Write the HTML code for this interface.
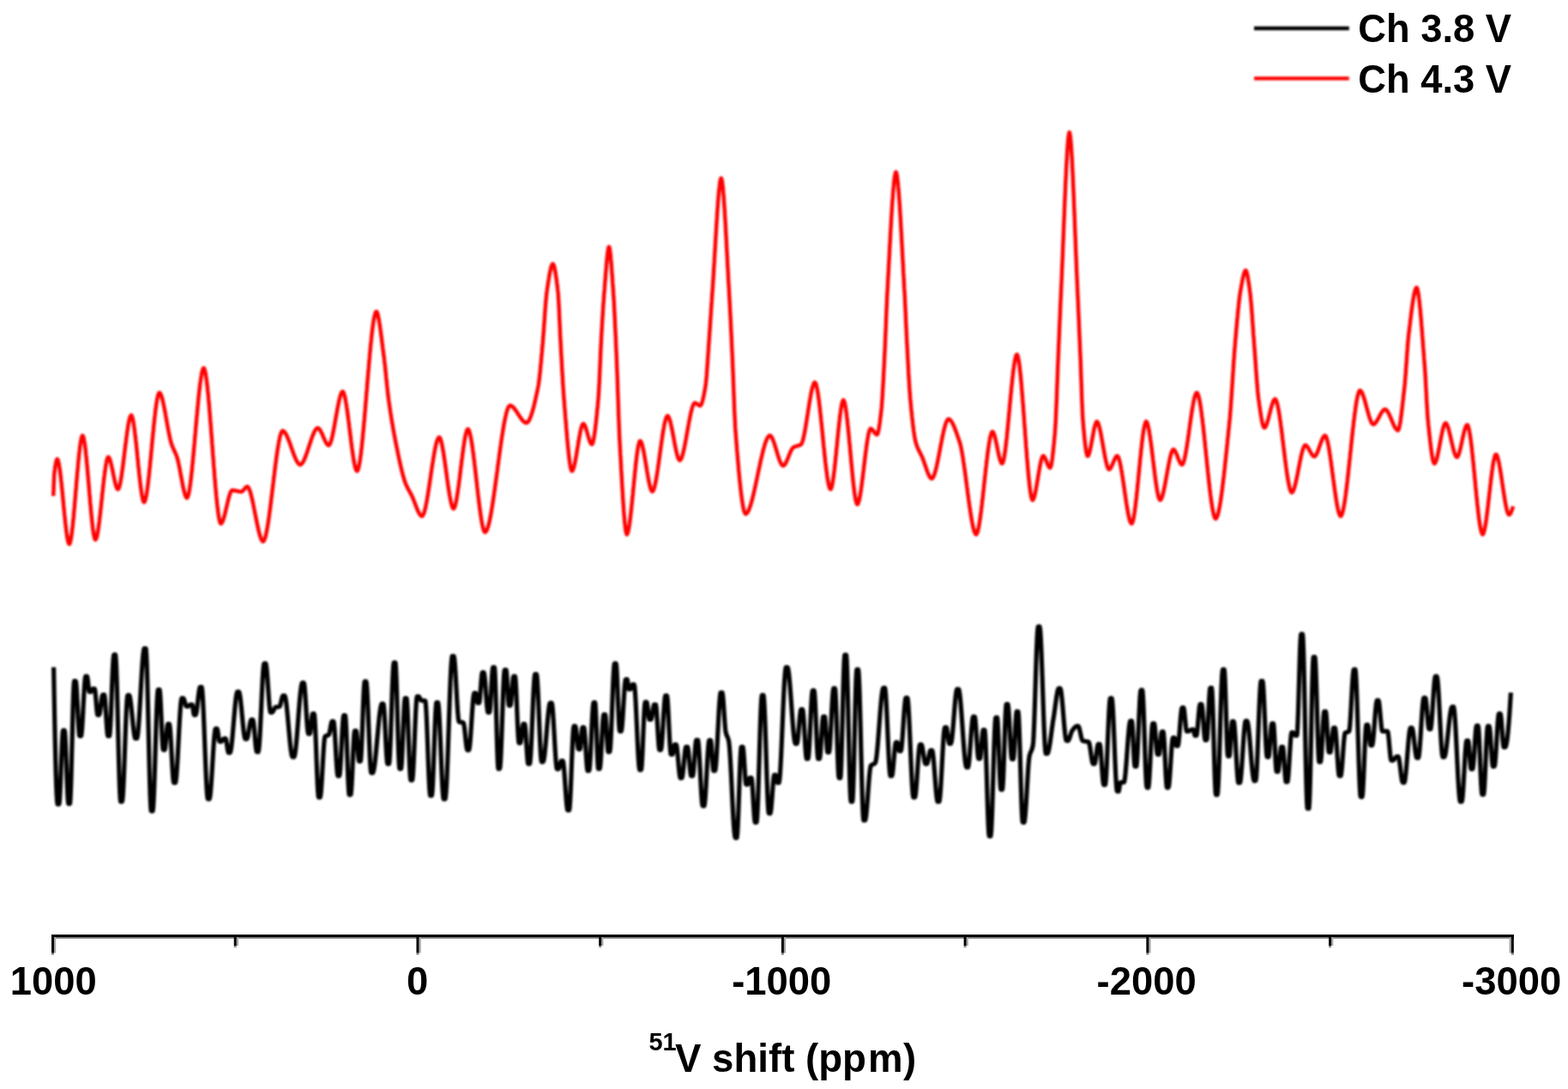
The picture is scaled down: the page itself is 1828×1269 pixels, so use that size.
<!DOCTYPE html>
<html lang="en">
<head>
<meta charset="utf-8">
<title>51V NMR spectra: Ch 3.8 V and Ch 4.3 V</title>
<style>
html,body{margin:0;padding:0;background:#fff;}
body{width:1828px;height:1269px;overflow:hidden;}
svg{display:block;}
text{font-family:"Liberation Sans",Arial,Helvetica,sans-serif;font-weight:bold;fill:#000;}
.tick text{font-size:45.4px;}
.legend text{font-size:45.3px;}
.title{font-size:45.6px;}
.sup{font-size:29px;}
</style>
</head>
<body>
<svg width="1828" height="1269" viewBox="0 0 1828 1269" role="img" aria-label="51V NMR spectra">
<defs>
<filter id="soft" filterUnits="userSpaceOnUse" x="0" y="0" width="1828" height="1269"><feGaussianBlur stdDeviation="1.0"/></filter>
<filter id="softtext" filterUnits="userSpaceOnUse" x="0" y="0" width="1828" height="1269"><feGaussianBlur stdDeviation="0.5"/></filter>
</defs>
<rect width="1828" height="1269" fill="#ffffff"/>
<g class="legend">
<line x1="1462" y1="33.0" x2="1572.8" y2="33.0" stroke="#000" stroke-width="4.4" filter="url(#soft)"/>
<line x1="1462" y1="91.4" x2="1572.8" y2="91.4" stroke="#ff0000" stroke-width="4.4" filter="url(#soft)"/>
<text filter="url(#softtext)" x="1583.3" y="49.4">Ch 3.8 V</text>
<text filter="url(#softtext)" x="1583.3" y="107.6">Ch 4.3 V</text>
</g>
<path id="ch43" filter="url(#soft)" fill="none" stroke="#ff0000" stroke-width="4.5" stroke-linejoin="round" stroke-linecap="butt" d="M62.2 578.0 L62.8 562.8 L63.2 552.5 L63.8 548.1 L64.2 544.3 L64.8 541.1 L65.2 538.6 L65.8 536.7 L66.2 535.5 L66.8 535.0 L67.2 535.5 L67.8 536.7
L68.2 538.5 L68.8 540.9 L69.2 543.8 L69.8 547.2 L70.2 550.9 L70.8 555.1 L71.2 559.5 L71.8 564.2 L72.2 569.1 L72.8 574.1 L73.2 579.3 L73.8 584.5
L74.2 589.7 L74.8 594.9 L75.2 599.9 L75.8 604.8 L76.2 609.5 L76.8 613.9 L77.2 618.1 L77.8 621.8 L78.2 625.2 L78.8 628.1 L79.2 630.5 L79.8 632.3
L80.2 633.5 L80.8 634.0 L81.2 633.4 L81.8 632.2 L82.2 630.2 L82.8 627.7 L83.2 624.6 L83.8 621.0 L84.2 617.0 L84.8 612.5 L85.2 607.7 L85.8 602.5
L86.2 597.1 L86.8 591.5 L87.2 585.7 L87.8 579.8 L88.2 573.8 L88.8 567.7 L89.2 561.7 L89.8 555.8 L90.2 550.0 L90.8 544.4 L91.2 539.0 L91.8 533.8
L92.2 529.0 L92.8 524.5 L93.2 520.5 L93.8 516.9 L94.2 513.8 L94.8 511.3 L95.2 509.3 L95.8 508.1 L96.2 507.5 L96.8 508.1 L97.2 509.4 L97.8 511.3
L98.2 513.9 L98.8 517.1 L99.2 520.7 L99.8 524.8 L100.2 529.4 L100.8 534.3 L101.2 539.4 L101.8 544.9 L102.2 550.6 L102.8 556.4 L103.2 562.3 L103.8 568.2
L104.2 574.2 L104.8 580.1 L105.2 585.9 L105.8 591.6 L106.2 597.1 L106.8 602.2 L107.2 607.1 L107.8 611.7 L108.2 615.8 L108.8 619.4 L109.2 622.6 L109.8 625.2
L110.2 627.1 L110.8 628.4 L111.2 629.0 L111.8 628.5 L112.2 627.5 L112.8 626.0 L113.2 623.9 L113.8 621.4 L114.2 618.5 L114.8 615.2 L115.2 611.6 L115.8 607.8
L116.2 603.6 L116.8 599.3 L117.2 594.8 L117.8 590.2 L118.2 585.5 L118.8 580.8 L119.2 576.0 L119.8 571.3 L120.2 566.7 L120.8 562.2 L121.2 557.9 L121.8 553.7
L122.2 549.9 L122.8 546.3 L123.2 543.0 L123.8 540.1 L124.2 537.6 L124.8 535.5 L125.2 534.0 L125.8 533.0 L126.2 532.5 L126.8 532.8 L127.2 533.5 L127.8 534.5
L128.2 535.8 L128.8 537.4 L129.2 539.3 L129.8 541.3 L130.2 543.5 L130.8 545.9 L131.2 548.3 L131.8 550.8 L132.2 553.2 L132.8 555.7 L133.2 558.0 L133.8 560.3
L134.2 562.5 L134.8 564.4 L135.2 566.1 L135.8 567.6 L136.2 568.8 L136.8 569.7 L137.2 570.2 L137.5 570.2 L137.8 570.1 L138.2 569.5 L138.8 568.4 L139.2 566.9
L139.8 564.9 L140.2 562.6 L140.8 560.0 L141.2 557.1 L141.8 553.9 L142.2 550.5 L142.8 546.9 L143.2 543.1 L143.8 539.2 L144.2 535.2 L144.8 531.1 L145.2 527.0
L145.8 522.9 L146.2 518.8 L146.8 514.8 L147.2 510.9 L147.8 507.1 L148.2 503.5 L148.8 500.1 L149.2 496.9 L149.8 494.0 L150.2 491.4 L150.8 489.1 L151.2 487.1
L151.8 485.6 L152.2 484.5 L152.8 483.9 L153.0 483.8 L153.2 483.9 L153.8 484.7 L154.2 486.1 L154.8 488.0 L155.2 490.4 L155.8 493.2 L156.2 496.5 L156.8 500.1
L157.2 504.0 L157.8 508.2 L158.2 512.7 L158.8 517.3 L159.2 522.1 L159.8 527.0 L160.2 532.0 L160.8 537.0 L161.2 542.0 L161.8 546.9 L162.2 551.7 L162.8 556.3
L163.2 560.8 L163.8 565.0 L164.2 568.9 L164.8 572.5 L165.2 575.8 L165.8 578.6 L166.2 581.0 L166.8 582.9 L167.2 584.3 L167.8 585.1 L168.0 585.2 L168.2 585.1
L168.8 584.3 L169.2 583.1 L169.8 581.3 L170.2 579.1 L170.8 576.4 L171.2 573.4 L171.8 569.9 L172.2 566.2 L172.8 562.1 L173.2 557.8 L173.8 553.2 L174.2 548.5
L174.8 543.5 L175.2 538.4 L175.8 533.3 L176.2 528.0 L176.8 522.7 L177.2 517.4 L177.8 512.1 L178.2 506.9 L178.8 501.8 L179.2 496.7 L179.8 491.9 L180.2 487.2
L180.8 482.8 L181.2 478.6 L181.8 474.7 L182.2 471.1 L182.8 467.8 L183.2 464.9 L183.8 462.5 L184.2 460.5 L184.8 459.0 L185.2 458.0 L185.8 457.5 L186.2 457.8
L186.8 458.3 L187.2 459.2 L187.8 460.3 L188.2 461.7 L188.8 463.2 L189.2 465.0 L189.8 467.0 L190.2 469.2 L190.8 471.5 L191.2 473.9 L191.8 476.5 L192.2 479.1
L192.8 481.8 L193.2 484.6 L193.8 487.4 L194.2 490.2 L194.8 493.0 L195.2 495.8 L195.8 498.5 L196.2 501.2 L196.8 503.8 L197.2 506.3 L197.8 508.7 L198.2 511.0
L198.8 513.1 L199.2 515.0 L199.8 516.7 L200.0 517.5 L200.2 518.2 L200.8 519.6 L201.2 520.8 L201.8 522.0 L202.2 523.1 L202.8 524.2 L203.2 525.3 L203.8 526.4
L204.2 527.5 L204.8 528.6 L205.2 529.8 L205.8 531.1 L206.2 532.5 L206.8 534.1 L207.2 536.0 L207.8 538.0 L208.2 540.2 L208.8 542.6 L209.2 545.1 L209.8 547.7
L210.2 550.4 L210.8 553.1 L211.2 555.8 L211.8 558.5 L212.2 561.1 L212.8 563.7 L213.2 566.2 L213.8 568.6 L214.2 570.9 L214.8 572.9 L215.2 574.8 L215.8 576.4
L216.2 577.8 L216.8 578.9 L217.2 579.7 L217.8 580.2 L218.0 580.2 L218.2 580.1 L218.8 579.3 L219.2 578.1 L219.8 576.3 L220.2 574.1 L220.8 571.4 L221.2 568.3
L221.8 564.9 L222.2 561.1 L222.8 556.9 L223.2 552.5 L223.8 547.9 L224.2 542.9 L224.8 537.8 L225.2 532.5 L225.8 527.1 L226.2 521.6 L226.8 515.9 L227.2 510.2
L227.8 504.5 L228.2 498.8 L228.8 493.1 L229.2 487.4 L229.8 481.9 L230.2 476.5 L230.8 471.2 L231.2 466.1 L231.8 461.1 L232.2 456.5 L232.8 452.1 L233.2 447.9
L233.8 444.1 L234.2 440.7 L234.8 437.6 L235.2 434.9 L235.8 432.7 L236.2 430.9 L236.8 429.7 L237.2 428.9 L237.5 428.8 L237.8 428.9 L238.2 429.8 L238.8 431.3
L239.2 433.3 L239.8 435.8 L240.2 438.9 L240.8 442.4 L241.2 446.4 L241.8 450.7 L242.2 455.5 L242.8 460.5 L243.2 465.9 L243.8 471.6 L244.2 477.5 L244.8 483.6
L245.2 489.9 L245.8 496.3 L246.2 502.9 L246.8 509.5 L247.2 516.2 L247.8 522.8 L248.2 529.5 L248.8 536.1 L249.2 542.7 L249.8 549.1 L250.2 555.4 L250.8 561.5
L251.2 567.4 L251.8 573.1 L252.2 578.5 L252.8 583.5 L253.2 588.3 L253.8 592.6 L254.2 596.6 L254.8 600.1 L255.2 603.2 L255.8 605.7 L256.2 607.7 L256.8 609.2
L257.2 610.1 L257.5 610.2 L257.8 610.2 L258.2 609.8 L258.8 609.1 L259.2 608.2 L259.8 607.1 L260.2 605.7 L260.8 604.2 L261.2 602.5 L261.8 600.6 L262.2 598.7
L262.8 596.6 L263.2 594.5 L263.8 592.4 L264.2 590.2 L264.8 588.0 L265.2 585.9 L265.8 583.8 L266.2 581.8 L266.8 579.9 L267.2 578.2 L267.8 576.5 L268.2 575.1
L268.8 573.8 L269.2 572.8 L269.8 572.0 L270.2 571.5 L270.8 571.2 L271.2 571.3 L271.8 571.3 L272.2 571.4 L272.8 571.4 L273.2 571.5 L273.8 571.6 L274.2 571.7
L274.8 571.8 L275.2 571.9 L275.8 572.1 L276.2 572.2 L276.8 572.3 L277.2 572.4 L277.8 572.5 L278.2 572.6 L278.8 572.7 L279.2 572.8 L279.8 572.9 L280.2 572.9
L280.8 573.0 L281.2 573.0 L281.8 572.9 L282.2 572.6 L282.8 572.3 L283.2 571.8 L283.8 571.2 L284.2 570.6 L284.8 570.0 L285.2 569.4 L285.8 568.8 L286.2 568.2
L286.8 567.7 L287.2 567.4 L287.8 567.1 L288.2 567.0 L288.8 567.2 L289.2 567.7 L289.8 568.4 L290.2 569.3 L290.8 570.5 L291.2 571.8 L291.8 573.3 L292.2 575.0
L292.8 576.8 L293.2 578.8 L293.8 580.9 L294.2 583.1 L294.8 585.4 L295.2 587.7 L295.8 590.2 L296.2 592.7 L296.8 595.2 L297.2 597.7 L297.8 600.3 L298.2 602.8
L298.8 605.3 L299.2 607.8 L299.8 610.3 L300.2 612.6 L300.8 614.9 L301.2 617.1 L301.8 619.2 L302.2 621.2 L302.8 623.0 L303.2 624.7 L303.8 626.2 L304.2 627.5
L304.8 628.7 L305.2 629.6 L305.8 630.3 L306.2 630.8 L306.8 631.0 L307.2 630.7 L307.8 630.0 L308.2 629.0 L308.8 627.8 L309.2 626.2 L309.8 624.3 L310.2 622.2
L310.8 619.8 L311.2 617.2 L311.8 614.4 L312.2 611.4 L312.8 608.2 L313.2 604.9 L313.8 601.3 L314.2 597.7 L314.8 593.9 L315.2 590.1 L315.8 586.1 L316.2 582.0
L316.8 577.9 L317.2 573.8 L317.8 569.6 L318.2 565.5 L318.8 561.3 L319.2 557.1 L319.8 553.0 L320.2 548.9 L320.8 544.9 L321.2 541.0 L321.8 537.2 L322.2 533.5
L322.8 529.9 L323.2 526.4 L323.8 523.2 L324.2 520.1 L324.8 517.1 L325.2 514.4 L325.8 512.0 L326.2 509.7 L326.8 507.7 L327.2 506.0 L327.8 504.6 L328.2 503.4
L328.8 502.6 L329.2 502.1 L329.5 502.0 L329.8 502.0 L330.2 502.2 L330.8 502.5 L331.2 502.9 L331.8 503.5 L332.2 504.1 L332.8 504.8 L333.2 505.7 L333.8 506.6
L334.2 507.6 L334.8 508.6 L335.2 509.8 L335.8 510.9 L336.2 512.2 L336.8 513.5 L337.2 514.8 L337.8 516.1 L338.2 517.5 L338.8 518.9 L339.2 520.3 L339.8 521.8
L340.2 523.2 L340.8 524.6 L341.2 526.0 L341.8 527.4 L342.2 528.7 L342.8 530.0 L343.2 531.3 L343.8 532.6 L344.2 533.7 L344.8 534.9 L345.2 535.9 L345.8 536.9
L346.2 537.8 L346.8 538.7 L347.2 539.4 L347.8 540.0 L348.2 540.6 L348.8 541.0 L349.2 541.3 L349.8 541.5 L350.0 541.5 L350.2 541.5 L350.8 541.3 L351.2 540.9
L351.8 540.5 L352.2 539.9 L352.8 539.2 L353.2 538.4 L353.8 537.5 L354.2 536.5 L354.8 535.5 L355.2 534.3 L355.8 533.1 L356.2 531.8 L356.8 530.5 L357.2 529.1
L357.8 527.7 L358.2 526.2 L358.8 524.7 L359.2 523.2 L359.8 521.7 L360.2 520.1 L360.8 518.6 L361.2 517.1 L361.8 515.5 L362.2 514.0 L362.8 512.6 L363.2 511.2
L363.8 509.8 L364.2 508.4 L364.8 507.1 L365.2 505.9 L365.8 504.8 L366.2 503.7 L366.8 502.7 L367.2 501.8 L367.8 501.0 L368.2 500.3 L368.8 499.8 L369.2 499.3
L369.8 499.0 L370.2 498.8 L370.5 498.8 L370.8 498.8 L371.2 499.0 L371.8 499.4 L372.2 499.9 L372.8 500.5 L373.2 501.3 L373.8 502.1 L374.2 503.1 L374.8 504.1
L375.2 505.1 L375.8 506.3 L376.2 507.4 L376.8 508.6 L377.2 509.8 L377.8 510.9 L378.2 512.0 L378.8 513.1 L379.2 514.2 L379.8 515.2 L380.2 516.1 L380.8 516.9
L381.2 517.6 L381.8 518.1 L382.2 518.6 L382.8 518.9 L383.2 519.0 L383.8 518.7 L384.2 518.2 L384.8 517.3 L385.2 516.1 L385.8 514.7 L386.2 513.1 L386.8 511.2
L387.2 509.2 L387.8 506.9 L388.2 504.6 L388.8 502.1 L389.2 499.5 L389.8 496.8 L390.2 494.0 L390.8 491.2 L391.2 488.3 L391.8 485.5 L392.2 482.7 L392.8 479.9
L393.2 477.1 L393.8 474.5 L394.2 471.9 L394.8 469.5 L395.2 467.2 L395.8 465.0 L396.2 463.1 L396.8 461.3 L397.2 459.8 L397.8 458.5 L398.2 457.5 L398.8 456.8
L399.2 456.3 L399.5 456.2 L399.8 456.4 L400.2 457.0 L400.8 458.0 L401.2 459.4 L401.8 461.2 L402.2 463.4 L402.8 465.8 L403.2 468.6 L403.8 471.6 L404.2 474.8
L404.8 478.2 L405.2 481.9 L405.8 485.6 L406.2 489.5 L406.8 493.5 L407.2 497.5 L407.8 501.6 L408.2 505.7 L408.8 509.7 L409.2 513.8 L409.8 517.7 L410.2 521.5
L410.8 525.2 L411.2 528.7 L411.8 532.1 L412.2 535.2 L412.8 538.1 L413.2 540.7 L413.8 543.0 L414.2 545.0 L414.8 546.6 L415.2 547.8 L415.8 548.6 L416.2 549.0
L416.8 548.5 L417.2 547.6 L417.8 546.1 L418.2 544.2 L418.8 541.9 L419.2 539.2 L419.8 536.1 L420.2 532.6 L420.8 528.8 L421.2 524.6 L421.8 520.2 L422.2 515.5
L422.8 510.6 L423.2 505.4 L423.8 500.1 L424.2 494.6 L424.8 488.9 L425.2 483.1 L425.8 477.2 L426.2 471.2 L426.8 465.1 L427.2 459.0 L427.8 453.0 L428.2 446.9
L428.8 440.8 L429.2 434.8 L429.8 428.9 L430.2 423.1 L430.8 417.4 L431.2 411.9 L431.8 406.6 L432.2 401.4 L432.8 396.5 L433.2 391.8 L433.8 387.4 L434.2 383.2
L434.8 379.4 L435.2 375.9 L435.8 372.8 L436.2 370.1 L436.8 367.8 L437.2 365.9 L437.8 364.4 L438.2 363.5 L438.8 363.0 L439.2 363.4 L439.8 364.4 L440.2 365.8
L440.8 367.7 L441.2 370.0 L441.8 372.6 L442.2 375.6 L442.8 378.8 L443.2 382.3 L443.8 385.9 L444.2 389.7 L444.8 393.6 L445.2 397.6 L445.8 401.6 L446.2 405.5
L446.8 409.4 L447.2 413.2 L447.5 415.0 L447.8 416.9 L448.2 421.0 L448.8 425.5 L449.2 430.1 L449.8 435.0 L450.2 440.0 L450.8 444.9 L451.2 449.8 L451.8 454.5
L452.2 458.9 L452.8 463.1 L453.0 465.0 L453.2 466.8 L453.8 470.4 L454.2 473.9 L454.8 477.2 L455.2 480.6 L455.8 483.8 L456.2 486.9 L456.8 490.0 L457.2 493.0
L457.8 496.0 L458.2 498.9 L458.8 501.7 L459.2 504.5 L459.8 507.2 L460.2 509.8 L460.8 512.4 L461.2 515.0 L461.8 517.5 L462.2 520.0 L462.8 522.4 L463.2 524.9
L463.8 527.4 L464.2 529.8 L464.8 532.2 L465.2 534.5 L465.8 536.8 L466.2 539.1 L466.8 541.4 L467.2 543.6 L467.8 545.7 L468.2 547.8 L468.8 549.8 L469.2 551.7
L469.8 553.6 L470.2 555.4 L470.8 557.1 L471.2 558.8 L471.8 560.3 L472.2 561.8 L472.5 562.5 L472.8 563.1 L473.2 564.4 L473.8 565.5 L474.2 566.6 L474.8 567.7
L475.2 568.7 L475.8 569.6 L476.2 570.6 L476.8 571.5 L477.2 572.4 L477.8 573.3 L478.2 574.2 L478.8 575.1 L479.2 576.0 L479.8 577.0 L480.0 577.5 L480.2 578.0
L480.8 579.1 L481.2 580.2 L481.8 581.4 L482.2 582.7 L482.8 583.9 L483.2 585.2 L483.8 586.5 L484.2 587.8 L484.8 589.2 L485.2 590.5 L485.8 591.7 L486.2 593.0
L486.8 594.2 L487.2 595.3 L487.8 596.4 L488.2 597.4 L488.8 598.3 L489.2 599.1 L489.8 599.8 L490.2 600.4 L490.8 600.9 L491.2 601.3 L491.8 601.5 L492.0 601.5
L492.2 601.4 L492.8 601.0 L493.2 600.2 L493.8 599.2 L494.2 597.9 L494.8 596.4 L495.2 594.6 L495.8 592.6 L496.2 590.4 L496.8 588.0 L497.2 585.4 L497.8 582.7
L498.2 579.8 L498.8 576.8 L499.2 573.7 L499.8 570.5 L500.2 567.3 L500.8 563.9 L501.2 560.6 L501.8 557.2 L502.2 553.8 L502.8 550.4 L503.2 547.1 L503.8 543.7
L504.2 540.5 L504.8 537.3 L505.2 534.2 L505.8 531.2 L506.2 528.3 L506.8 525.6 L507.2 523.0 L507.8 520.6 L508.2 518.4 L508.8 516.4 L509.2 514.6 L509.8 513.1
L510.2 511.8 L510.8 510.8 L511.2 510.0 L511.8 509.6 L512.0 509.5 L512.2 509.6 L512.8 510.1 L513.2 511.1 L513.8 512.3 L514.2 514.0 L514.8 515.9 L515.2 518.1
L515.8 520.5 L516.2 523.2 L516.8 526.2 L517.2 529.2 L517.8 532.5 L518.2 535.9 L518.8 539.4 L519.2 542.9 L519.8 546.6 L520.2 550.2 L520.8 553.9 L521.2 557.5
L521.8 561.1 L522.2 564.6 L522.8 568.1 L523.2 571.4 L523.8 574.6 L524.2 577.6 L524.8 580.4 L525.2 583.0 L525.8 585.3 L526.2 587.4 L526.8 589.1 L527.2 590.6
L527.8 591.7 L528.2 592.4 L528.8 592.8 L529.2 592.4 L529.8 591.6 L530.2 590.3 L530.8 588.7 L531.2 586.8 L531.8 584.5 L532.2 581.8 L532.8 579.0 L533.2 575.8
L533.8 572.5 L534.2 569.0 L534.8 565.3 L535.2 561.4 L535.8 557.5 L536.2 553.5 L536.8 549.4 L537.2 545.4 L537.8 541.3 L538.2 537.2 L538.8 533.3 L539.2 529.4
L539.8 525.6 L540.2 522.0 L540.8 518.6 L541.2 515.3 L541.8 512.3 L542.2 509.6 L542.8 507.1 L543.2 505.0 L543.8 503.2 L544.2 501.7 L544.8 500.7 L545.2 500.1
L545.5 500.0 L545.8 500.1 L546.2 500.7 L546.8 501.7 L547.2 503.0 L547.8 504.7 L548.2 506.7 L548.8 509.0 L549.2 511.7 L549.8 514.6 L550.2 517.7 L550.8 521.1
L551.2 524.6 L551.8 528.4 L552.2 532.3 L552.8 536.3 L553.2 540.5 L553.8 544.8 L554.2 549.1 L554.8 553.5 L555.2 557.9 L555.8 562.3 L556.2 566.8 L556.8 571.2
L557.2 575.5 L557.8 579.8 L558.2 583.9 L558.8 588.0 L559.2 591.9 L559.8 595.6 L560.2 599.2 L560.8 602.6 L561.2 605.7 L561.8 608.6 L562.2 611.2 L562.8 613.5
L563.2 615.6 L563.8 617.3 L564.2 618.6 L564.8 619.6 L565.2 620.1 L565.5 620.2 L565.8 620.2 L566.2 619.8 L566.8 619.2 L567.2 618.3 L567.8 617.3 L568.2 616.0
L568.8 614.5 L569.2 612.9 L569.8 611.0 L570.2 609.0 L570.8 606.8 L571.2 604.4 L571.8 601.9 L572.2 599.3 L572.8 596.5 L573.2 593.6 L573.8 590.5 L574.2 587.4
L574.8 584.2 L575.2 580.8 L575.8 577.4 L576.2 573.9 L576.8 570.4 L577.2 566.8 L577.8 563.2 L578.2 559.5 L578.8 555.7 L579.2 552.0 L579.8 548.3 L580.2 544.5
L580.8 540.7 L581.2 537.0 L581.8 533.3 L582.2 529.6 L582.8 525.9 L583.2 522.3 L583.8 518.8 L584.2 515.3 L584.8 511.9 L585.2 508.6 L585.8 505.4 L586.2 502.2
L586.8 499.2 L587.2 496.3 L587.8 493.5 L588.2 490.8 L588.8 488.3 L589.2 486.0 L589.8 483.8 L590.2 481.7 L590.8 479.9 L591.2 478.2 L591.8 476.7 L592.2 475.5
L592.8 474.4 L593.2 473.6 L593.8 473.0 L594.2 472.6 L594.5 472.5 L594.8 472.5 L595.2 472.6 L595.8 472.8 L596.2 473.0 L596.8 473.3 L597.2 473.7 L597.8 474.1
L598.2 474.6 L598.8 475.1 L599.2 475.7 L599.8 476.3 L600.2 476.9 L600.8 477.6 L601.2 478.3 L601.8 479.0 L602.2 479.8 L602.8 480.5 L603.2 481.3 L603.8 482.0
L604.2 482.8 L604.8 483.6 L605.2 484.4 L605.8 485.1 L606.2 485.9 L606.8 486.6 L607.2 487.3 L607.8 488.0 L608.2 488.6 L608.8 489.3 L609.2 489.9 L609.8 490.4
L610.2 490.9 L610.8 491.3 L611.2 491.7 L611.8 492.1 L612.2 492.3 L612.8 492.5 L613.2 492.7 L613.8 492.8 L614.2 492.6 L614.8 492.3 L615.2 491.9 L615.8 491.3
L616.2 490.6 L616.8 489.8 L617.2 488.9 L617.8 487.8 L618.2 486.6 L618.8 485.4 L619.2 484.0 L619.8 482.5 L620.2 480.9 L620.8 479.3 L621.2 477.5 L621.8 475.7
L622.2 473.8 L622.8 471.8 L623.2 469.7 L623.8 467.6 L624.2 465.4 L624.8 463.2 L625.2 460.9 L625.8 458.5 L626.2 456.1 L626.8 453.7 L627.2 451.2 L627.5 450.0
L627.8 448.6 L628.2 445.3 L628.8 441.4 L629.2 437.0 L629.8 432.2 L630.2 427.0 L630.8 421.7 L631.2 416.2 L631.8 410.7 L632.2 405.2 L632.5 402.5 L632.8 399.7
L633.2 393.5 L633.8 386.8 L634.2 379.7 L634.8 372.5 L635.2 365.4 L635.8 358.6 L636.2 352.3 L636.8 346.7 L637.2 342.0 L637.5 340.0 L637.8 338.3 L638.2 334.9
L638.8 331.5 L639.2 328.3 L639.8 325.1 L640.2 322.1 L640.8 319.3 L641.2 316.7 L641.8 314.4 L642.2 312.3 L642.8 310.6 L643.2 309.2 L643.8 308.2 L644.2 307.6
L644.5 307.5 L644.8 307.6 L645.2 308.3 L645.8 309.5 L646.2 311.2 L646.8 313.4 L647.2 316.0 L647.8 318.9 L648.2 322.1 L648.8 325.7 L649.2 329.5 L649.8 333.6
L650.2 337.8 L650.5 340.0 L650.8 342.7 L651.2 350.3 L651.8 359.8 L652.2 370.6 L652.8 381.8 L653.2 392.7 L653.8 402.5 L654.2 411.5 L654.8 420.6 L655.2 429.6
L655.8 438.4 L656.2 446.8 L656.8 454.6 L657.2 461.8 L657.5 465.0 L657.8 468.0 L658.2 474.2 L658.8 480.4 L659.2 486.7 L659.8 492.9 L660.2 499.0 L660.8 505.0
L661.2 510.9 L661.8 516.5 L662.2 521.8 L662.8 526.8 L663.2 531.4 L663.8 535.6 L664.2 539.3 L664.8 542.5 L665.2 545.1 L665.8 547.1 L666.2 548.4 L666.8 549.0
L667.2 548.7 L667.8 547.9 L668.2 546.8 L668.8 545.4 L669.2 543.6 L669.8 541.5 L670.2 539.2 L670.8 536.7 L671.2 534.0 L671.8 531.2 L672.2 528.2 L672.8 525.2
L673.2 522.1 L673.8 519.1 L674.2 516.0 L674.8 513.0 L675.2 510.1 L675.8 507.4 L676.2 504.8 L676.8 502.4 L677.2 500.2 L677.8 498.2 L678.2 496.6 L678.8 495.3
L679.2 494.4 L679.8 493.9 L680.0 493.8 L680.2 493.8 L680.8 494.2 L681.2 494.9 L681.8 495.8 L682.2 497.0 L682.8 498.3 L683.2 499.8 L683.8 501.4 L684.2 503.1
L684.8 504.9 L685.2 506.6 L685.8 508.4 L686.2 510.1 L686.8 511.7 L687.2 513.2 L687.8 514.5 L688.2 515.7 L688.8 516.6 L689.2 517.3 L689.8 517.7 L690.0 517.8
L690.2 517.6 L690.8 516.8 L691.2 515.4 L691.8 513.5 L692.2 511.1 L692.8 508.2 L693.2 504.9 L693.8 501.2 L694.2 497.1 L694.8 492.8 L695.2 488.1 L695.8 483.3
L696.2 478.2 L696.8 473.0 L697.2 467.7 L697.5 465.0 L697.8 461.8 L698.2 453.8 L698.8 444.1 L699.2 433.2 L699.8 421.7 L700.2 410.3 L700.8 399.5 L701.2 390.0
L701.8 381.4 L702.2 373.0 L702.8 364.9 L703.2 357.2 L703.8 349.9 L704.2 343.1 L704.5 340.0 L704.8 337.0 L705.2 330.7 L705.8 324.3 L706.2 317.9 L706.8 311.7
L707.2 305.9 L707.8 300.6 L708.2 295.9 L708.8 292.1 L709.2 289.4 L709.8 287.8 L710.0 287.5 L710.2 287.8 L710.8 289.7 L711.2 292.8 L711.8 297.2 L712.2 302.5
L712.8 308.6 L713.2 315.2 L713.8 322.2 L714.2 329.4 L714.8 336.5 L715.0 340.0 L715.2 343.7 L715.8 351.9 L716.2 361.1 L716.8 371.0 L717.2 381.5 L717.8 392.4
L718.2 403.7 L718.8 415.0 L719.2 427.4 L719.8 441.3 L720.2 455.9 L720.8 470.7 L721.2 485.1 L721.8 498.4 L722.2 510.0 L722.5 515.0 L722.8 519.5 L723.2 528.7
L723.8 537.8 L724.2 546.9 L724.8 555.9 L725.2 564.6 L725.8 573.0 L726.2 581.1 L726.8 588.7 L727.2 595.7 L727.8 602.1 L728.2 607.8 L728.8 612.7 L729.2 616.7
L729.8 619.8 L730.2 621.8 L730.8 622.8 L731.2 622.3 L731.8 621.2 L732.2 619.5 L732.8 617.3 L733.2 614.7 L733.8 611.6 L734.2 608.1 L734.8 604.2 L735.2 600.1
L735.8 595.6 L736.2 591.0 L736.8 586.1 L737.2 581.1 L737.8 576.0 L738.2 570.8 L738.8 565.7 L739.2 560.5 L739.8 555.4 L740.2 550.4 L740.8 545.5 L741.2 540.9
L741.8 536.4 L742.2 532.3 L742.8 528.4 L743.2 524.9 L743.8 521.8 L744.2 519.2 L744.8 517.0 L745.2 515.3 L745.8 514.2 L746.2 513.8 L746.8 514.1 L747.2 514.7
L747.8 515.8 L748.2 517.2 L748.8 518.8 L749.2 520.8 L749.8 523.0 L750.2 525.3 L750.8 527.9 L751.2 530.6 L751.8 533.5 L752.2 536.4 L752.8 539.4 L753.2 542.5
L753.8 545.5 L754.2 548.6 L754.8 551.5 L755.2 554.4 L755.8 557.2 L756.2 559.9 L756.8 562.4 L757.2 564.7 L757.8 566.7 L758.2 568.5 L758.8 570.1 L759.2 571.3
L759.8 572.1 L760.2 572.6 L760.5 572.8 L760.8 572.6 L761.2 572.1 L761.8 571.3 L762.2 570.0 L762.8 568.5 L763.2 566.7 L763.8 564.5 L764.2 562.2 L764.8 559.6
L765.2 556.8 L765.8 553.8 L766.2 550.6 L766.8 547.3 L767.2 543.9 L767.8 540.4 L768.2 536.8 L768.8 533.2 L769.2 529.5 L769.8 525.9 L770.2 522.2 L770.8 518.6
L771.2 515.1 L771.8 511.6 L772.2 508.3 L772.8 505.0 L773.2 502.0 L773.8 499.1 L774.2 496.3 L774.8 493.9 L775.2 491.6 L775.8 489.6 L776.2 488.0 L776.8 486.6
L777.2 485.5 L777.8 484.8 L778.2 484.5 L778.8 484.8 L779.2 485.4 L779.8 486.3 L780.2 487.5 L780.8 489.0 L781.2 490.7 L781.8 492.6 L782.2 494.7 L782.8 497.0
L783.2 499.4 L783.8 501.9 L784.2 504.5 L784.8 507.1 L785.2 509.8 L785.8 512.5 L786.2 515.2 L786.8 517.8 L787.2 520.4 L787.8 522.8 L788.2 525.2 L788.8 527.4
L789.2 529.4 L789.8 531.2 L790.2 532.8 L790.8 534.1 L791.2 535.2 L791.8 536.0 L792.2 536.4 L792.5 536.5 L792.8 536.4 L793.2 536.0 L793.8 535.3 L794.2 534.4
L794.8 533.2 L795.2 531.8 L795.8 530.1 L796.2 528.3 L796.8 526.2 L797.2 524.1 L797.8 521.7 L798.2 519.3 L798.8 516.7 L799.2 514.1 L799.8 511.4 L800.2 508.6
L800.8 505.8 L801.2 503.0 L801.8 500.2 L802.2 497.4 L802.8 494.6 L803.2 491.9 L803.8 489.3 L804.2 486.7 L804.8 484.3 L805.2 481.9 L805.8 479.8 L806.2 477.7
L806.8 475.9 L807.2 474.2 L807.8 472.8 L808.2 471.6 L808.8 470.7 L809.2 470.0 L809.8 469.6 L810.0 469.5 L810.2 469.5 L810.8 469.6 L811.2 469.9 L811.8 470.1
L812.2 470.5 L812.8 470.8 L813.2 471.2 L813.8 471.6 L814.2 472.0 L814.8 472.3 L815.2 472.5 L815.8 472.7 L816.2 472.8 L816.8 472.5 L817.2 471.8 L817.8 470.9
L818.2 469.6 L818.8 468.1 L819.2 466.3 L819.8 464.2 L820.2 462.0 L820.8 459.6 L821.2 457.0 L821.8 454.3 L822.2 451.4 L822.5 450.0 L822.8 448.2 L823.2 443.7
L823.8 438.0 L824.2 431.4 L824.8 424.3 L825.2 416.9 L825.8 409.5 L826.2 402.5 L826.8 395.5 L827.2 388.3 L827.8 380.8 L828.2 373.3 L828.8 365.7 L829.2 358.2
L829.8 350.7 L830.2 343.5 L830.5 340.0 L830.8 336.5 L831.2 329.1 L831.8 321.3 L832.2 313.2 L832.8 304.9 L833.2 296.5 L833.8 288.0 L834.2 279.5 L834.8 271.1
L835.2 262.9 L835.8 254.9 L836.2 247.3 L836.8 240.1 L837.2 233.4 L837.8 227.3 L838.2 221.8 L838.8 217.2 L839.2 213.3 L839.8 210.3 L840.2 208.4 L840.8 207.5
L841.2 208.5 L841.8 210.7 L842.2 214.1 L842.8 218.5 L843.2 223.9 L843.8 230.1 L844.2 237.1 L844.8 244.7 L845.2 252.9 L845.8 261.5 L846.2 270.5 L846.8 279.8
L847.2 289.2 L847.8 298.7 L848.2 308.3 L848.8 317.6 L849.2 326.8 L849.8 335.7 L850.0 340.0 L850.2 344.4 L850.8 353.5 L851.2 363.1 L851.8 373.0 L852.2 383.2
L852.8 393.7 L853.2 404.3 L853.8 415.0 L854.2 426.6 L854.8 439.3 L855.2 452.5 L855.8 465.7 L856.2 478.2 L856.8 489.4 L857.2 498.7 L857.5 502.5 L857.8 505.7
L858.2 512.1 L858.8 518.5 L859.2 524.7 L859.8 530.7 L860.2 536.6 L860.8 542.4 L861.2 548.0 L861.8 553.3 L862.2 558.5 L862.8 563.4 L863.2 568.1 L863.8 572.5
L864.2 576.6 L864.8 580.5 L865.2 584.0 L865.8 587.2 L866.2 590.1 L866.8 592.6 L867.2 594.7 L867.8 596.4 L868.2 597.7 L868.8 598.6 L869.2 599.0 L869.8 598.8
L870.2 598.5 L870.8 598.0 L871.2 597.4 L871.8 596.7 L872.2 595.8 L872.8 594.8 L873.2 593.6 L873.8 592.4 L874.2 591.0 L874.8 589.5 L875.2 587.9 L875.8 586.3
L876.2 584.5 L876.8 582.7 L877.2 580.7 L877.8 578.8 L878.2 576.7 L878.8 574.6 L879.2 572.4 L879.8 570.2 L880.2 567.9 L880.8 565.7 L881.2 563.3 L881.8 561.0
L882.2 558.6 L882.8 556.2 L883.2 553.8 L883.8 551.5 L884.2 549.1 L884.8 546.7 L885.2 544.3 L885.8 542.0 L886.2 539.7 L886.8 537.4 L887.2 535.2 L887.8 533.0
L888.2 530.9 L888.8 528.8 L889.2 526.7 L889.8 524.8 L890.2 522.9 L890.8 521.1 L891.2 519.4 L891.8 517.8 L892.2 516.2 L892.8 514.8 L893.2 513.5 L893.8 512.3
L894.2 511.2 L894.8 510.3 L895.2 509.4 L895.8 508.7 L896.2 508.2 L896.8 507.8 L897.2 507.6 L897.5 507.5 L897.8 507.6 L898.2 507.8 L898.8 508.3 L899.2 508.9
L899.8 509.7 L900.2 510.6 L900.8 511.7 L901.2 512.9 L901.8 514.2 L902.2 515.5 L902.8 517.0 L903.2 518.6 L903.8 520.2 L904.2 521.8 L904.8 523.5 L905.2 525.1
L905.8 526.8 L906.2 528.5 L906.8 530.1 L907.2 531.7 L907.8 533.2 L908.2 534.7 L908.8 536.1 L909.2 537.4 L909.8 538.6 L910.2 539.6 L910.8 540.6 L911.2 541.4
L911.8 542.0 L912.2 542.4 L912.8 542.7 L913.0 542.8 L913.2 542.7 L913.8 542.5 L914.2 542.1 L914.8 541.5 L915.2 540.9 L915.8 540.1 L916.2 539.1 L916.8 538.1
L917.2 537.0 L917.8 535.9 L918.2 534.7 L918.8 533.5 L919.2 532.2 L919.8 531.0 L920.2 529.7 L920.8 528.5 L921.2 527.3 L921.8 526.2 L922.2 525.1 L922.8 524.2
L923.2 523.3 L923.8 522.5 L924.2 521.9 L924.8 521.4 L925.0 521.2 L925.2 521.1 L925.8 520.9 L926.2 520.6 L926.8 520.4 L927.2 520.3 L927.8 520.1 L928.2 520.0
L928.8 519.8 L929.2 519.7 L929.8 519.6 L930.2 519.4 L930.8 519.3 L931.2 519.1 L931.8 519.0 L932.2 518.8 L932.8 518.5 L933.2 518.3 L933.8 518.0 L934.2 517.4
L934.8 516.5 L935.2 515.3 L935.8 513.8 L936.2 512.0 L936.8 510.0 L937.2 507.7 L937.8 505.3 L938.2 502.7 L938.8 499.9 L939.2 497.0 L939.8 494.0 L940.2 490.9
L940.8 487.7 L941.2 484.5 L941.8 481.3 L942.2 478.1 L942.8 474.9 L943.2 471.8 L943.8 468.7 L944.2 465.8 L944.8 462.9 L945.2 460.2 L945.8 457.6 L946.2 455.2
L946.8 453.1 L947.2 451.1 L947.8 449.4 L948.2 448.0 L948.8 446.9 L949.2 446.1 L949.8 445.6 L950.0 445.5 L950.2 445.7 L950.8 446.3 L951.2 447.5 L951.8 449.2
L952.2 451.2 L952.8 453.7 L953.2 456.5 L953.8 459.7 L954.2 463.2 L954.8 467.0 L955.2 471.1 L955.8 475.3 L956.2 479.8 L956.8 484.5 L957.2 489.2 L957.8 494.1
L958.2 499.1 L958.8 504.1 L959.2 509.1 L959.8 514.2 L960.2 519.2 L960.8 524.1 L961.2 528.9 L961.8 533.6 L962.2 538.2 L962.8 542.6 L963.2 546.7 L963.8 550.6
L964.2 554.3 L964.8 557.6 L965.2 560.7 L965.8 563.3 L966.2 565.6 L966.8 567.5 L967.2 568.9 L967.8 569.8 L968.2 570.2 L968.8 569.8 L969.2 568.6 L969.8 567.0
L970.2 564.8 L970.8 562.1 L971.2 558.9 L971.8 555.4 L972.2 551.5 L972.8 547.3 L973.2 542.9 L973.8 538.2 L974.2 533.4 L974.8 528.4 L975.2 523.4 L975.8 518.2
L976.2 513.1 L976.8 508.1 L977.2 503.1 L977.8 498.3 L978.2 493.6 L978.8 489.2 L979.2 485.0 L979.8 481.1 L980.2 477.6 L980.8 474.4 L981.2 471.7 L981.8 469.5
L982.2 467.9 L982.8 466.7 L983.2 466.2 L983.8 466.8 L984.2 467.9 L984.8 469.6 L985.2 471.8 L985.8 474.5 L986.2 477.7 L986.8 481.3 L987.2 485.3 L987.8 489.6
L988.2 494.2 L988.8 499.0 L989.2 504.1 L989.8 509.3 L990.2 514.7 L990.8 520.1 L991.2 525.6 L991.8 531.1 L992.2 536.6 L992.8 542.0 L993.2 547.3 L993.8 552.5
L994.2 557.4 L994.8 562.2 L995.2 566.6 L995.8 570.7 L996.2 574.5 L996.8 577.9 L997.2 580.9 L997.8 583.4 L998.2 585.3 L998.8 586.8 L999.2 587.6 L999.5 587.8
L999.8 587.6 L1000.2 587.0 L1000.8 585.8 L1001.2 584.3 L1001.8 582.3 L1002.2 580.0 L1002.8 577.3 L1003.2 574.3 L1003.8 571.1 L1004.2 567.6 L1004.8 563.9 L1005.2 560.1
L1005.8 556.1 L1006.2 552.0 L1006.8 547.8 L1007.2 543.6 L1007.8 539.4 L1008.2 535.3 L1008.8 531.2 L1009.2 527.2 L1009.8 523.3 L1010.2 519.6 L1010.8 516.2 L1011.2 512.9
L1011.8 509.9 L1012.2 507.3 L1012.8 504.9 L1013.2 503.0 L1013.8 501.4 L1014.2 500.3 L1014.8 499.6 L1015.0 499.5 L1015.2 499.5 L1015.8 499.7 L1016.2 500.1 L1016.8 500.5
L1017.2 501.0 L1017.8 501.7 L1018.2 502.3 L1018.8 503.0 L1019.2 503.7 L1019.8 504.3 L1020.2 505.0 L1020.8 505.5 L1021.2 505.9 L1021.8 506.3 L1022.2 506.5 L1022.5 506.5
L1022.8 506.3 L1023.2 505.4 L1023.8 503.8 L1024.2 501.6 L1024.8 498.8 L1025.2 495.6 L1025.8 492.0 L1026.2 488.1 L1026.8 483.9 L1027.2 479.7 L1027.5 477.5 L1027.8 475.0
L1028.2 468.9 L1028.8 461.5 L1029.2 453.2 L1029.8 444.1 L1030.2 434.5 L1030.8 424.8 L1031.2 415.0 L1031.8 404.4 L1032.2 392.6 L1032.8 380.1 L1033.2 367.7 L1033.8 355.7
L1034.2 344.8 L1034.5 340.0 L1034.8 335.5 L1035.2 326.3 L1035.8 316.9 L1036.2 307.5 L1036.8 298.0 L1037.2 288.6 L1037.8 279.3 L1038.2 270.2 L1038.8 261.3 L1039.2 252.8
L1039.8 244.7 L1040.2 237.0 L1040.8 229.9 L1041.2 223.4 L1041.8 217.5 L1042.2 212.4 L1042.8 208.1 L1043.2 204.7 L1043.8 202.3 L1044.2 200.8 L1044.5 200.5 L1044.8 200.8
L1045.2 202.3 L1045.8 204.8 L1046.2 208.3 L1046.8 212.7 L1047.2 217.9 L1047.8 223.9 L1048.2 230.6 L1048.8 237.8 L1049.2 245.6 L1049.8 253.8 L1050.2 262.4 L1050.8 271.3
L1051.2 280.5 L1051.8 289.7 L1052.2 299.1 L1052.8 308.4 L1053.2 317.7 L1053.8 326.8 L1054.2 335.7 L1054.5 340.0 L1054.8 344.5 L1055.2 354.5 L1055.8 365.3 L1056.2 376.4
L1056.8 387.3 L1057.2 397.7 L1057.5 402.5 L1057.8 407.1 L1058.2 416.5 L1058.8 425.8 L1059.2 434.9 L1059.8 443.5 L1060.2 451.5 L1060.8 458.7 L1061.2 465.0 L1061.8 470.4
L1062.2 475.7 L1062.8 480.7 L1063.2 485.5 L1063.8 490.1 L1064.2 494.5 L1064.8 498.6 L1065.2 502.3 L1065.8 505.8 L1066.2 508.9 L1066.8 511.6 L1067.2 514.0 L1067.5 515.0
L1067.8 515.9 L1068.2 517.5 L1068.8 519.0 L1069.2 520.4 L1069.8 521.7 L1070.2 522.8 L1070.8 523.9 L1071.2 525.0 L1071.8 526.0 L1072.2 526.9 L1072.8 527.9 L1073.2 528.9
L1073.8 529.8 L1074.2 530.9 L1074.8 531.9 L1075.0 532.5 L1075.2 533.1 L1075.8 534.3 L1076.2 535.6 L1076.8 537.0 L1077.2 538.4 L1077.8 539.8 L1078.2 541.3 L1078.8 542.8
L1079.2 544.2 L1079.8 545.7 L1080.2 547.1 L1080.8 548.5 L1081.2 549.9 L1081.8 551.2 L1082.2 552.4 L1082.8 553.5 L1083.2 554.5 L1083.8 555.4 L1084.2 556.2 L1084.8 556.8
L1085.2 557.3 L1085.8 557.6 L1086.2 557.8 L1086.8 557.5 L1087.2 557.1 L1087.8 556.4 L1088.2 555.5 L1088.8 554.3 L1089.2 553.0 L1089.8 551.5 L1090.2 549.8 L1090.8 548.0
L1091.2 546.1 L1091.8 544.0 L1092.2 541.8 L1092.8 539.5 L1093.2 537.1 L1093.8 534.6 L1094.2 532.1 L1094.8 529.5 L1095.2 526.9 L1095.8 524.3 L1096.2 521.7 L1096.8 519.1
L1097.2 516.5 L1097.8 513.9 L1098.2 511.4 L1098.8 508.9 L1099.2 506.5 L1099.8 504.2 L1100.2 502.0 L1100.8 499.9 L1101.2 498.0 L1101.8 496.2 L1102.2 494.5 L1102.8 493.0
L1103.2 491.7 L1103.8 490.5 L1104.2 489.6 L1104.8 488.9 L1105.2 488.5 L1105.8 488.2 L1106.2 488.4 L1106.8 488.6 L1107.2 488.9 L1107.8 489.4 L1108.2 489.9 L1108.8 490.5
L1109.2 491.2 L1109.8 492.0 L1110.2 492.9 L1110.8 493.9 L1111.2 494.9 L1111.8 496.0 L1112.2 497.1 L1112.8 498.3 L1113.2 499.6 L1113.8 500.8 L1114.2 502.2 L1114.8 503.5
L1115.2 504.9 L1115.8 506.3 L1116.2 507.8 L1116.8 509.2 L1117.2 510.7 L1117.8 512.1 L1118.2 513.6 L1118.8 515.0 L1119.2 516.7 L1119.8 518.6 L1120.2 520.7 L1120.8 523.1
L1121.2 525.7 L1121.8 528.5 L1122.2 531.4 L1122.8 534.5 L1123.2 537.8 L1123.8 541.1 L1124.2 544.6 L1124.8 548.2 L1125.2 551.9 L1125.8 555.6 L1126.2 559.4 L1126.8 563.2
L1127.2 567.0 L1127.8 570.8 L1128.2 574.6 L1128.8 578.4 L1129.2 582.1 L1129.8 585.8 L1130.2 589.3 L1130.8 592.8 L1131.2 596.2 L1131.8 599.4 L1132.2 602.5 L1132.8 605.5
L1133.2 608.2 L1133.8 610.8 L1134.2 613.2 L1134.8 615.3 L1135.2 617.2 L1135.8 618.9 L1136.2 620.3 L1136.8 621.4 L1137.2 622.2 L1137.8 622.6 L1138.0 622.8 L1138.2 622.6
L1138.8 622.0 L1139.2 620.9 L1139.8 619.5 L1140.2 617.6 L1140.8 615.4 L1141.2 612.9 L1141.8 610.0 L1142.2 606.9 L1142.8 603.5 L1143.2 599.8 L1143.8 596.0 L1144.2 591.9
L1144.8 587.8 L1145.2 583.4 L1145.8 579.0 L1146.2 574.4 L1146.8 569.8 L1147.2 565.2 L1147.8 560.6 L1148.2 555.9 L1148.8 551.3 L1149.2 546.8 L1149.8 542.3 L1150.2 538.0
L1150.8 533.8 L1151.2 529.8 L1151.8 525.9 L1152.2 522.3 L1152.8 518.9 L1153.2 515.7 L1153.8 512.9 L1154.2 510.3 L1154.8 508.1 L1155.2 506.3 L1155.8 504.8 L1156.2 503.8
L1156.8 503.1 L1157.0 503.0 L1157.2 503.1 L1157.8 503.6 L1158.2 504.4 L1158.8 505.6 L1159.2 507.1 L1159.8 508.8 L1160.2 510.7 L1160.8 512.8 L1161.2 515.0 L1161.8 517.4
L1162.2 519.8 L1162.8 522.2 L1163.2 524.7 L1163.8 527.0 L1164.2 529.3 L1164.8 531.5 L1165.2 533.5 L1165.8 535.4 L1166.2 537.0 L1166.8 538.3 L1167.2 539.3 L1167.8 540.0
L1168.2 540.2 L1168.8 539.8 L1169.2 538.7 L1169.8 537.1 L1170.2 535.0 L1170.8 532.4 L1171.2 529.4 L1171.8 526.0 L1172.2 522.3 L1172.8 518.2 L1173.2 513.8 L1173.8 509.2
L1174.2 504.3 L1174.8 499.3 L1175.2 494.1 L1175.8 488.8 L1176.2 483.4 L1176.8 478.0 L1177.2 472.5 L1177.8 467.1 L1178.2 461.8 L1178.8 456.5 L1179.2 451.4 L1179.8 446.5
L1180.2 441.7 L1180.8 437.2 L1181.2 433.0 L1181.8 429.0 L1182.2 425.5 L1182.8 422.3 L1183.2 419.5 L1183.8 417.1 L1184.2 415.3 L1184.8 413.9 L1185.2 413.2 L1185.5 413.0
L1185.8 413.2 L1186.2 414.1 L1186.8 415.7 L1187.2 418.0 L1187.8 420.8 L1188.2 424.2 L1188.8 428.0 L1189.2 432.4 L1189.8 437.1 L1190.2 442.3 L1190.8 447.8 L1191.2 453.6
L1191.8 459.7 L1192.2 466.0 L1192.8 472.5 L1193.2 479.1 L1193.8 485.9 L1194.2 492.7 L1194.8 499.6 L1195.2 506.4 L1195.8 513.2 L1196.2 519.9 L1196.8 526.5 L1197.2 532.9
L1197.8 539.1 L1198.2 545.1 L1198.8 550.7 L1199.2 556.1 L1199.8 561.0 L1200.2 565.6 L1200.8 569.7 L1201.2 573.3 L1201.8 576.4 L1202.2 579.0 L1202.8 580.9 L1203.2 582.2
L1203.8 582.8 L1204.2 582.4 L1204.8 581.7 L1205.2 580.5 L1205.8 579.0 L1206.2 577.1 L1206.8 575.0 L1207.2 572.7 L1207.8 570.1 L1208.2 567.4 L1208.8 564.5 L1209.2 561.5
L1209.8 558.5 L1210.2 555.5 L1210.8 552.5 L1211.2 549.5 L1211.8 546.6 L1212.2 543.9 L1212.8 541.3 L1213.2 539.0 L1213.8 536.9 L1214.2 535.0 L1214.8 533.5 L1215.2 532.3
L1215.8 531.6 L1216.2 531.2 L1216.8 531.4 L1217.2 531.9 L1217.8 532.6 L1218.2 533.5 L1218.8 534.6 L1219.2 535.7 L1219.8 537.0 L1220.2 538.2 L1220.8 539.5 L1221.2 540.8
L1221.8 541.9 L1222.2 543.0 L1222.8 543.9 L1223.2 544.6 L1223.8 545.1 L1224.2 545.2 L1224.8 544.6 L1225.2 543.2 L1225.8 541.1 L1226.2 538.2 L1226.8 534.8 L1227.2 530.8
L1227.8 526.4 L1228.2 521.6 L1228.8 516.4 L1229.2 511.0 L1229.8 505.4 L1230.0 502.5 L1230.2 499.1 L1230.8 490.3 L1231.2 479.4 L1231.8 467.1 L1232.2 453.9 L1232.8 440.4
L1233.2 427.3 L1233.8 415.0 L1234.2 403.3 L1234.8 391.5 L1235.2 379.7 L1235.8 368.0 L1236.2 356.5 L1236.8 345.4 L1237.0 340.0 L1237.2 334.6 L1237.8 323.4 L1238.2 311.7
L1238.8 299.6 L1239.2 287.2 L1239.8 274.6 L1240.2 262.1 L1240.8 249.6 L1241.2 237.3 L1241.8 225.5 L1242.2 214.1 L1242.8 203.3 L1243.2 193.2 L1243.8 184.1 L1244.2 175.9
L1244.8 168.8 L1245.2 163.0 L1245.8 158.5 L1246.2 155.6 L1246.8 154.2 L1247.2 155.6 L1247.8 158.8 L1248.2 163.5 L1248.8 169.6 L1249.2 177.0 L1249.8 185.6 L1250.2 195.3
L1250.8 205.8 L1251.2 217.1 L1251.8 228.9 L1252.2 241.2 L1252.8 253.9 L1253.2 266.8 L1253.8 279.7 L1254.2 292.5 L1254.8 305.0 L1255.2 317.2 L1255.8 328.9 L1256.2 340.0
L1256.8 350.9 L1257.2 362.2 L1257.8 373.6 L1258.2 385.3 L1258.8 397.1 L1259.2 409.0 L1259.5 415.0 L1259.8 421.3 L1260.2 435.1 L1260.8 449.5 L1261.2 463.6 L1261.8 476.2
L1262.2 486.3 L1262.5 490.0 L1262.8 493.0 L1263.2 498.8 L1263.8 504.3 L1264.2 509.6 L1264.8 514.4 L1265.2 518.7 L1265.8 522.6 L1266.2 525.8 L1266.8 528.4 L1267.2 530.2
L1267.8 531.3 L1268.0 531.5 L1268.2 531.4 L1268.8 530.8 L1269.2 529.8 L1269.8 528.5 L1270.2 526.8 L1270.8 524.8 L1271.2 522.5 L1271.8 520.1 L1272.2 517.5 L1272.8 514.8
L1273.2 512.1 L1273.8 509.3 L1274.2 506.6 L1274.8 503.9 L1275.2 501.4 L1275.8 499.1 L1276.2 497.0 L1276.8 495.1 L1277.2 493.6 L1277.8 492.4 L1278.2 491.6 L1278.8 491.2
L1279.2 491.5 L1279.8 492.2 L1280.2 493.2 L1280.8 494.5 L1281.2 496.1 L1281.8 497.9 L1282.2 500.0 L1282.8 502.2 L1283.2 504.6 L1283.8 507.2 L1284.2 509.9 L1284.8 512.7
L1285.2 515.5 L1285.8 518.4 L1286.2 521.3 L1286.8 524.1 L1287.2 527.0 L1287.8 529.7 L1288.2 532.3 L1288.8 534.8 L1289.2 537.2 L1289.8 539.4 L1290.2 541.3 L1290.8 543.0
L1291.2 544.5 L1291.8 545.6 L1292.2 546.4 L1292.8 546.9 L1293.0 547.0 L1293.2 546.9 L1293.8 546.7 L1294.2 546.2 L1294.8 545.5 L1295.2 544.7 L1295.8 543.7 L1296.2 542.7
L1296.8 541.5 L1297.2 540.3 L1297.8 539.1 L1298.2 537.9 L1298.8 536.7 L1299.2 535.6 L1299.8 534.5 L1300.2 533.6 L1300.8 532.7 L1301.2 532.1 L1301.8 531.6 L1302.2 531.3
L1302.5 531.2 L1302.8 531.4 L1303.2 531.9 L1303.8 532.7 L1304.2 533.9 L1304.8 535.5 L1305.2 537.3 L1305.8 539.4 L1306.2 541.7 L1306.8 544.3 L1307.2 547.1 L1307.8 550.0
L1308.2 553.1 L1308.8 556.3 L1309.2 559.6 L1309.8 563.0 L1310.2 566.4 L1310.8 569.9 L1311.2 573.4 L1311.8 576.8 L1312.2 580.2 L1312.8 583.6 L1313.2 586.8 L1313.8 590.0
L1314.2 593.0 L1314.8 595.8 L1315.2 598.5 L1315.8 601.0 L1316.2 603.2 L1316.8 605.1 L1317.2 606.8 L1317.8 608.2 L1318.2 609.2 L1318.8 609.9 L1319.2 610.2 L1319.8 609.8
L1320.2 608.8 L1320.8 607.2 L1321.2 605.2 L1321.8 602.8 L1322.2 599.9 L1322.8 596.6 L1323.2 593.0 L1323.8 589.1 L1324.2 584.9 L1324.8 580.5 L1325.2 575.8 L1325.8 571.0
L1326.2 566.1 L1326.8 561.0 L1327.2 555.9 L1327.8 550.8 L1328.2 545.6 L1328.8 540.5 L1329.2 535.4 L1329.8 530.5 L1330.2 525.7 L1330.8 521.0 L1331.2 516.6 L1331.8 512.4
L1332.2 508.5 L1332.8 504.9 L1333.2 501.6 L1333.8 498.7 L1334.2 496.3 L1334.8 494.3 L1335.2 492.7 L1335.8 491.7 L1336.2 491.2 L1336.8 491.6 L1337.2 492.5 L1337.8 493.8
L1338.2 495.4 L1338.8 497.5 L1339.2 499.9 L1339.8 502.6 L1340.2 505.6 L1340.8 508.8 L1341.2 512.3 L1341.8 515.9 L1342.2 519.7 L1342.8 523.7 L1343.2 527.7 L1343.8 531.8
L1344.2 536.0 L1344.8 540.1 L1345.2 544.2 L1345.8 548.3 L1346.2 552.3 L1346.8 556.2 L1347.2 559.9 L1347.8 563.5 L1348.2 566.8 L1348.8 569.9 L1349.2 572.8 L1349.8 575.4
L1350.2 577.6 L1350.8 579.5 L1351.2 580.9 L1351.8 582.0 L1352.2 582.6 L1352.5 582.8 L1352.8 582.7 L1353.2 582.2 L1353.8 581.5 L1354.2 580.4 L1354.8 579.1 L1355.2 577.6
L1355.8 575.8 L1356.2 573.8 L1356.8 571.6 L1357.2 569.3 L1357.8 566.8 L1358.2 564.2 L1358.8 561.6 L1359.2 558.8 L1359.8 556.1 L1360.2 553.2 L1360.8 550.4 L1361.2 547.7
L1361.8 544.9 L1362.2 542.3 L1362.8 539.7 L1363.2 537.2 L1363.8 534.9 L1364.2 532.7 L1364.8 530.7 L1365.2 528.9 L1365.8 527.4 L1366.2 526.1 L1366.8 525.0 L1367.2 524.3
L1367.8 523.8 L1368.0 523.8 L1368.2 523.8 L1368.8 524.1 L1369.2 524.6 L1369.8 525.3 L1370.2 526.1 L1370.8 527.1 L1371.2 528.2 L1371.8 529.4 L1372.2 530.7 L1372.8 532.0
L1373.2 533.3 L1373.8 534.6 L1374.2 535.8 L1374.8 537.0 L1375.2 538.1 L1375.8 539.1 L1376.2 540.0 L1376.8 540.7 L1377.2 541.2 L1377.8 541.4 L1378.0 541.5 L1378.2 541.4
L1378.8 540.9 L1379.2 540.0 L1379.8 538.8 L1380.2 537.2 L1380.8 535.4 L1381.2 533.3 L1381.8 530.9 L1382.2 528.3 L1382.8 525.5 L1383.2 522.5 L1383.8 519.4 L1384.2 516.1
L1384.8 512.8 L1385.2 509.3 L1385.8 505.8 L1386.2 502.2 L1386.8 498.6 L1387.2 495.0 L1387.8 491.5 L1388.2 488.0 L1388.8 484.5 L1389.2 481.2 L1389.8 478.0 L1390.2 474.9
L1390.8 472.1 L1391.2 469.4 L1391.8 466.9 L1392.2 464.6 L1392.8 462.7 L1393.2 461.0 L1393.8 459.6 L1394.2 458.5 L1394.8 457.8 L1395.2 457.5 L1395.8 457.9 L1396.2 458.7
L1396.8 459.9 L1397.2 461.4 L1397.8 463.3 L1398.2 465.6 L1398.8 468.1 L1399.2 471.0 L1399.8 474.1 L1400.2 477.5 L1400.8 481.2 L1401.2 485.0 L1401.8 489.0 L1402.2 493.3
L1402.8 497.6 L1403.2 502.1 L1403.8 506.8 L1404.2 511.5 L1404.8 516.3 L1405.2 521.2 L1405.8 526.1 L1406.2 531.0 L1406.8 535.9 L1407.2 540.8 L1407.8 545.7 L1408.2 550.5
L1408.8 555.2 L1409.2 559.9 L1409.8 564.4 L1410.2 568.7 L1410.8 573.0 L1411.2 577.0 L1411.8 580.8 L1412.2 584.5 L1412.8 587.9 L1413.2 591.0 L1413.8 593.9 L1414.2 596.4
L1414.8 598.7 L1415.2 600.6 L1415.8 602.1 L1416.2 603.3 L1416.8 604.1 L1417.2 604.5 L1417.8 604.2 L1418.2 603.5 L1418.8 602.5 L1419.2 601.3 L1419.8 599.7 L1420.2 597.9
L1420.8 595.8 L1421.2 593.5 L1421.8 590.9 L1422.2 588.2 L1422.8 585.1 L1423.2 581.9 L1423.8 578.5 L1424.2 574.9 L1424.8 571.2 L1425.2 567.3 L1425.8 563.2 L1426.2 559.0
L1426.8 554.7 L1427.2 550.3 L1427.8 545.7 L1428.2 541.1 L1428.8 536.4 L1429.2 531.6 L1429.8 526.8 L1430.2 521.9 L1430.8 517.0 L1431.2 512.1 L1431.8 507.2 L1432.2 502.2
L1432.8 497.3 L1433.2 492.4 L1433.5 490.0 L1433.8 487.4 L1434.2 481.6 L1434.8 475.2 L1435.2 468.3 L1435.8 461.0 L1436.2 453.4 L1436.8 445.6 L1437.2 437.9 L1437.8 430.2
L1438.2 422.7 L1438.8 415.5 L1439.2 408.7 L1439.8 402.5 L1440.2 396.7 L1440.8 390.8 L1441.2 385.0 L1441.8 379.3 L1442.2 373.6 L1442.8 368.2 L1443.2 362.9 L1443.8 357.9
L1444.2 353.2 L1444.8 348.9 L1445.2 345.0 L1445.8 341.5 L1446.0 340.0 L1446.2 338.6 L1446.8 335.8 L1447.2 332.9 L1447.8 330.2 L1448.2 327.5 L1448.8 325.0 L1449.2 322.7
L1449.8 320.6 L1450.2 318.8 L1450.8 317.3 L1451.2 316.1 L1451.8 315.3 L1452.2 315.0 L1452.8 315.5 L1453.2 316.6 L1453.8 318.4 L1454.2 320.6 L1454.8 323.3 L1455.2 326.3
L1455.8 329.5 L1456.2 332.9 L1456.8 336.5 L1457.2 340.0 L1457.8 344.2 L1458.2 349.2 L1458.8 355.0 L1459.2 361.3 L1459.8 368.1 L1460.2 375.1 L1460.8 382.1 L1461.2 389.2
L1461.8 396.0 L1462.2 402.5 L1462.8 409.0 L1463.2 415.8 L1463.8 422.8 L1464.2 429.9 L1464.8 436.9 L1465.2 443.6 L1465.8 449.9 L1466.2 455.7 L1466.8 460.8 L1467.2 465.0
L1467.8 468.6 L1468.2 472.1 L1468.8 475.6 L1469.2 479.1 L1469.8 482.3 L1470.2 485.4 L1470.8 488.3 L1471.2 490.9 L1471.8 493.1 L1472.2 495.1 L1472.8 496.6 L1473.2 497.7
L1473.8 498.4 L1474.0 498.5 L1474.2 498.4 L1474.8 498.1 L1475.2 497.4 L1475.8 496.6 L1476.2 495.5 L1476.8 494.2 L1477.2 492.7 L1477.8 491.1 L1478.2 489.4 L1478.8 487.6
L1479.2 485.7 L1479.8 483.7 L1480.2 481.8 L1480.8 479.8 L1481.2 477.8 L1481.8 475.9 L1482.2 474.1 L1482.8 472.4 L1483.2 470.8 L1483.8 469.3 L1484.2 468.0 L1484.8 466.9
L1485.2 466.1 L1485.8 465.4 L1486.2 465.1 L1486.5 465.0 L1486.8 465.1 L1487.2 465.7 L1487.8 466.6 L1488.2 467.8 L1488.8 469.4 L1489.2 471.4 L1489.8 473.6 L1490.2 476.1
L1490.8 478.8 L1491.2 481.8 L1491.8 484.9 L1492.2 488.3 L1492.8 491.8 L1493.2 495.5 L1493.8 499.3 L1494.2 503.2 L1494.8 507.2 L1495.2 511.3 L1495.8 515.4 L1496.2 519.5
L1496.8 523.6 L1497.2 527.7 L1497.8 531.8 L1498.2 535.8 L1498.8 539.7 L1499.2 543.5 L1499.8 547.2 L1500.2 550.7 L1500.8 554.1 L1501.2 557.2 L1501.8 560.2 L1502.2 562.9
L1502.8 565.4 L1503.2 567.6 L1503.8 569.6 L1504.2 571.2 L1504.8 572.4 L1505.2 573.3 L1505.8 573.9 L1506.0 574.0 L1506.2 573.9 L1506.8 573.5 L1507.2 572.8 L1507.8 571.9
L1508.2 570.7 L1508.8 569.3 L1509.2 567.6 L1509.8 565.8 L1510.2 563.9 L1510.8 561.7 L1511.2 559.5 L1511.8 557.1 L1512.2 554.7 L1512.8 552.2 L1513.2 549.6 L1513.8 547.0
L1514.2 544.4 L1514.8 541.9 L1515.2 539.3 L1515.8 536.9 L1516.2 534.4 L1516.8 532.1 L1517.2 529.9 L1517.8 527.9 L1518.2 526.0 L1518.8 524.3 L1519.2 522.7 L1519.8 521.4
L1520.2 520.4 L1520.8 519.5 L1521.2 519.0 L1521.8 518.8 L1522.2 518.9 L1522.8 519.1 L1523.2 519.5 L1523.8 520.1 L1524.2 520.7 L1524.8 521.4 L1525.2 522.2 L1525.8 523.1
L1526.2 524.0 L1526.8 524.9 L1527.2 525.8 L1527.8 526.8 L1528.2 527.7 L1528.8 528.5 L1529.2 529.3 L1529.8 530.0 L1530.2 530.7 L1530.8 531.2 L1531.2 531.6 L1531.8 531.9
L1532.2 532.0 L1532.8 531.8 L1533.2 531.5 L1533.8 530.9 L1534.2 530.2 L1534.8 529.3 L1535.2 528.3 L1535.8 527.2 L1536.2 526.0 L1536.8 524.7 L1537.2 523.3 L1537.8 521.9
L1538.2 520.5 L1538.8 519.0 L1539.2 517.6 L1539.8 516.2 L1540.2 514.8 L1540.8 513.5 L1541.2 512.3 L1541.8 511.2 L1542.2 510.2 L1542.8 509.3 L1543.2 508.6 L1543.8 508.0
L1544.2 507.7 L1544.8 507.5 L1545.2 507.8 L1545.8 508.5 L1546.2 509.6 L1546.8 511.0 L1547.2 512.7 L1547.8 514.7 L1548.2 517.0 L1548.8 519.5 L1549.2 522.3 L1549.8 525.2
L1550.2 528.4 L1550.8 531.7 L1551.2 535.1 L1551.8 538.6 L1552.2 542.3 L1552.8 546.0 L1553.2 549.8 L1553.8 553.6 L1554.2 557.3 L1554.8 561.1 L1555.2 564.9 L1555.8 568.6
L1556.2 572.1 L1556.8 575.6 L1557.2 579.0 L1557.8 582.2 L1558.2 585.3 L1558.8 588.1 L1559.2 590.8 L1559.8 593.2 L1560.2 595.3 L1560.8 597.2 L1561.2 598.7 L1561.8 600.0
L1562.2 600.9 L1562.8 601.4 L1563.0 601.5 L1563.2 601.4 L1563.8 600.8 L1564.2 599.9 L1564.8 598.5 L1565.2 596.9 L1565.8 594.9 L1566.2 592.6 L1566.8 590.0 L1567.2 587.1
L1567.8 584.0 L1568.2 580.6 L1568.8 577.0 L1569.2 573.2 L1569.8 569.2 L1570.2 565.1 L1570.8 560.8 L1571.2 556.4 L1571.8 551.9 L1572.2 547.3 L1572.8 542.6 L1573.2 537.8
L1573.8 533.0 L1574.2 528.2 L1574.8 523.5 L1575.2 518.7 L1575.8 513.9 L1576.2 509.2 L1576.8 504.6 L1577.2 500.1 L1577.8 495.7 L1578.2 491.4 L1578.8 487.3 L1579.2 483.3
L1579.8 479.5 L1580.2 475.9 L1580.8 472.5 L1581.2 469.4 L1581.8 466.5 L1582.2 463.9 L1582.8 461.6 L1583.2 459.6 L1583.8 458.0 L1584.2 456.6 L1584.8 455.7 L1585.2 455.1
L1585.5 455.0 L1585.8 455.1 L1586.2 455.4 L1586.8 455.9 L1587.2 456.5 L1587.8 457.4 L1588.2 458.5 L1588.8 459.7 L1589.2 461.0 L1589.8 462.5 L1590.2 464.0 L1590.8 465.7
L1591.2 467.4 L1591.8 469.2 L1592.2 471.0 L1592.8 472.9 L1593.2 474.8 L1593.8 476.6 L1594.2 478.5 L1594.8 480.3 L1595.2 482.1 L1595.8 483.8 L1596.2 485.5 L1596.8 487.0
L1597.2 488.5 L1597.8 489.8 L1598.2 491.0 L1598.8 492.1 L1599.2 493.0 L1599.8 493.6 L1600.2 494.1 L1600.8 494.4 L1601.0 494.5 L1601.2 494.5 L1601.8 494.3 L1602.2 494.0
L1602.8 493.6 L1603.2 493.2 L1603.8 492.6 L1604.2 491.9 L1604.8 491.2 L1605.2 490.4 L1605.8 489.6 L1606.2 488.7 L1606.8 487.8 L1607.2 486.9 L1607.8 486.0 L1608.2 485.0
L1608.8 484.1 L1609.2 483.2 L1609.8 482.3 L1610.2 481.5 L1610.8 480.7 L1611.2 479.9 L1611.8 479.2 L1612.2 478.6 L1612.8 478.1 L1613.2 477.6 L1613.8 477.3 L1614.2 477.1
L1614.8 477.0 L1615.2 477.1 L1615.8 477.4 L1616.2 477.8 L1616.8 478.3 L1617.2 478.9 L1617.8 479.7 L1618.2 480.5 L1618.8 481.4 L1619.2 482.4 L1619.8 483.4 L1620.2 484.5
L1620.8 485.7 L1621.2 486.9 L1621.8 488.0 L1622.2 489.2 L1622.8 490.5 L1623.2 491.6 L1623.8 492.8 L1624.2 494.0 L1624.8 495.1 L1625.2 496.1 L1625.8 497.1 L1626.2 498.0
L1626.8 498.8 L1627.2 499.6 L1627.8 500.2 L1628.2 500.7 L1628.8 501.1 L1629.2 501.4 L1629.8 501.5 L1630.2 501.0 L1630.8 499.9 L1631.2 498.2 L1631.8 495.9 L1632.2 493.2
L1632.8 490.1 L1633.2 486.7 L1633.8 482.9 L1634.2 478.9 L1634.8 474.6 L1635.2 470.3 L1635.8 465.8 L1636.2 461.3 L1636.8 456.9 L1637.2 452.5 L1637.8 447.5 L1638.2 441.6
L1638.8 435.1 L1639.2 428.2 L1639.8 421.0 L1640.2 413.9 L1640.8 407.0 L1641.2 400.5 L1641.8 394.8 L1642.2 390.0 L1642.8 385.9 L1643.2 381.7 L1643.8 377.5 L1644.2 373.4
L1644.8 369.3 L1645.2 365.3 L1645.8 361.4 L1646.2 357.7 L1646.8 354.2 L1647.2 350.8 L1647.8 347.7 L1648.2 344.9 L1648.8 342.4 L1649.2 340.2 L1649.8 338.3 L1650.2 336.8
L1650.8 335.8 L1651.2 335.1 L1651.5 335.0 L1651.8 335.2 L1652.2 336.3 L1652.8 338.0 L1653.2 340.5 L1653.8 343.6 L1654.2 347.3 L1654.8 351.5 L1655.2 356.2 L1655.8 361.3
L1656.2 366.8 L1656.8 372.6 L1657.2 378.7 L1657.8 385.0 L1658.2 391.5 L1658.8 398.0 L1659.2 404.7 L1659.8 411.3 L1660.2 417.9 L1660.8 424.3 L1661.0 427.5 L1661.2 431.0
L1661.8 439.0 L1662.2 448.0 L1662.8 457.6 L1663.2 467.1 L1663.8 476.0 L1664.2 483.8 L1664.8 490.0 L1665.2 494.9 L1665.8 499.8 L1666.2 504.6 L1666.8 509.3 L1667.2 513.8
L1667.8 518.1 L1668.2 522.1 L1668.8 525.9 L1669.2 529.3 L1669.8 532.3 L1670.2 534.9 L1670.8 537.1 L1671.2 538.7 L1671.8 539.8 L1672.2 540.2 L1672.8 540.0 L1673.2 539.3
L1673.8 538.3 L1674.2 537.0 L1674.8 535.5 L1675.2 533.6 L1675.8 531.6 L1676.2 529.4 L1676.8 527.0 L1677.2 524.5 L1677.8 521.9 L1678.2 519.3 L1678.8 516.6 L1679.2 513.9
L1679.8 511.3 L1680.2 508.7 L1680.8 506.2 L1681.2 503.9 L1681.8 501.6 L1682.2 499.6 L1682.8 497.8 L1683.2 496.2 L1683.8 494.9 L1684.2 493.9 L1684.8 493.3 L1685.2 493.0
L1685.8 493.2 L1686.2 493.8 L1686.8 494.6 L1687.2 495.6 L1687.8 496.9 L1688.2 498.4 L1688.8 500.0 L1689.2 501.8 L1689.8 503.8 L1690.2 505.8 L1690.8 507.9 L1691.2 510.1
L1691.8 512.3 L1692.2 514.5 L1692.8 516.7 L1693.2 518.9 L1693.8 521.0 L1694.2 522.9 L1694.8 524.8 L1695.2 526.6 L1695.8 528.1 L1696.2 529.5 L1696.8 530.7 L1697.2 531.6
L1697.8 532.3 L1698.2 532.7 L1698.5 532.8 L1698.8 532.7 L1699.2 532.2 L1699.8 531.5 L1700.2 530.4 L1700.8 529.1 L1701.2 527.5 L1701.8 525.8 L1702.2 523.8 L1702.8 521.8
L1703.2 519.6 L1703.8 517.3 L1704.2 515.0 L1704.8 512.7 L1705.2 510.4 L1705.8 508.2 L1706.2 506.0 L1706.8 503.9 L1707.2 502.0 L1707.8 500.2 L1708.2 498.7 L1708.8 497.3
L1709.2 496.3 L1709.8 495.5 L1710.2 495.1 L1710.5 495.0 L1710.8 495.2 L1711.2 495.9 L1711.8 497.1 L1712.2 498.8 L1712.8 501.0 L1713.2 503.6 L1713.8 506.6 L1714.2 509.9
L1714.8 513.6 L1715.2 517.6 L1715.8 521.8 L1716.2 526.3 L1716.8 531.0 L1717.2 535.8 L1717.8 540.8 L1718.2 545.9 L1718.8 551.0 L1719.2 556.3 L1719.8 561.5 L1720.2 566.7
L1720.8 571.9 L1721.2 577.0 L1721.8 582.0 L1722.2 586.8 L1722.8 591.5 L1723.2 595.9 L1723.8 600.2 L1724.2 604.1 L1724.8 607.8 L1725.2 611.2 L1725.8 614.1 L1726.2 616.7
L1726.8 618.9 L1727.2 620.6 L1727.8 621.9 L1728.2 622.6 L1728.5 622.8 L1728.8 622.6 L1729.2 621.9 L1729.8 620.7 L1730.2 619.1 L1730.8 617.0 L1731.2 614.5 L1731.8 611.7
L1732.2 608.6 L1732.8 605.1 L1733.2 601.5 L1733.8 597.6 L1734.2 593.5 L1734.8 589.3 L1735.2 585.0 L1735.8 580.6 L1736.2 576.1 L1736.8 571.7 L1737.2 567.3 L1737.8 563.0
L1738.2 558.8 L1738.8 554.7 L1739.2 550.8 L1739.8 547.1 L1740.2 543.7 L1740.8 540.5 L1741.2 537.7 L1741.8 535.2 L1742.2 533.2 L1742.8 531.5 L1743.2 530.3 L1743.8 529.6
L1744.0 529.5 L1744.2 529.6 L1744.8 530.1 L1745.2 531.1 L1745.8 532.3 L1746.2 533.9 L1746.8 535.9 L1747.2 538.0 L1747.8 540.5 L1748.2 543.1 L1748.8 546.0 L1749.2 549.0
L1749.8 552.1 L1750.2 555.4 L1750.8 558.7 L1751.2 562.1 L1751.8 565.5 L1752.2 568.9 L1752.8 572.2 L1753.2 575.5 L1753.8 578.7 L1754.2 581.8 L1754.8 584.7 L1755.2 587.5
L1755.8 590.0 L1756.2 592.3 L1756.8 594.4 L1757.2 596.1 L1757.8 597.6 L1758.2 598.7 L1758.8 599.4 L1759.2 599.8 L1759.8 599.6 L1760.2 599.2 L1760.8 598.5 L1761.2 597.7
L1761.8 596.6 L1762.2 595.4 L1762.8 594.1 L1763.2 592.5 L1763.8 590.9 L1764.0 590.0"/>
<path id="ch38" filter="url(#soft)" fill="none" stroke="#000000" stroke-width="5.2" stroke-linejoin="round" stroke-linecap="butt" d="M62.6 777.5 L63.1 806.7 L63.6 833.8 L64.1 858.5 L64.6 880.4 L65.1 899.2 L65.6 914.5 L66.1 926.2 L66.6 933.8 L67.1 937.1 L67.2 937.2 L67.6 937.2
L68.1 937.2 L68.6 937.2 L68.8 937.2 L69.1 936.3 L69.6 931.0 L70.1 921.9 L70.6 910.2 L71.1 897.1 L71.6 883.7 L72.1 871.3 L72.6 860.9 L73.1 853.8
L73.6 851.0 L73.6 851.0 L74.1 851.0 L74.6 851.0 L75.1 851.0 L75.2 851.0 L75.6 852.7 L76.1 859.3 L76.6 869.6 L77.1 882.4 L77.6 896.2 L78.1 909.8
L78.6 921.8 L79.1 931.0 L79.6 936.1 L79.8 936.6 L80.1 936.6 L80.6 936.6 L81.1 936.6 L81.4 936.6 L81.6 936.1 L82.1 929.9 L82.6 917.9 L83.1 901.6
L83.6 882.4 L84.1 861.9 L84.6 841.7 L85.1 823.3 L85.6 808.1 L86.1 797.7 L86.6 793.6 L86.6 793.6 L87.1 793.6 L87.6 793.6 L88.1 793.6 L88.2 793.6
L88.6 794.8 L89.1 799.6 L89.6 807.3 L90.1 816.8 L90.6 827.1 L91.1 837.3 L91.6 846.4 L92.1 853.4 L92.6 857.3 L92.8 857.7 L93.1 857.7 L93.6 857.7
L94.1 857.7 L94.4 857.7 L94.6 857.6 L95.1 854.8 L95.6 849.4 L96.1 842.0 L96.6 833.2 L97.1 823.7 L97.6 814.1 L98.1 805.2 L98.6 797.5 L99.1 791.7
L99.6 788.6 L99.8 788.2 L100.1 788.2 L100.6 788.2 L101.1 788.2 L101.4 788.2 L101.6 788.3 L102.1 790.7 L102.6 794.8 L103.1 799.6 L103.6 803.7 L104.1 805.9
L104.3 806.1 L104.6 806.1 L105.1 806.1 L105.6 806.1 L105.9 806.1 L106.1 806.0 L106.6 805.5 L107.1 804.6 L107.6 803.7 L108.1 802.9 L108.6 802.6 L108.7 802.6
L109.1 802.6 L109.6 802.6 L110.1 802.6 L110.3 802.6 L110.6 803.4 L111.1 806.9 L111.6 812.2 L112.1 818.4 L112.6 824.6 L113.1 829.6 L113.6 832.7 L113.9 833.1
L114.1 833.1 L114.6 833.1 L115.1 833.1 L115.5 833.1 L115.6 833.0 L116.1 831.8 L116.6 829.2 L117.1 825.7 L117.6 821.8 L118.1 817.9 L118.6 814.3 L119.1 811.5
L119.6 809.8 L119.9 809.6 L120.1 809.6 L120.6 809.6 L121.1 809.6 L121.5 809.6 L121.6 809.7 L122.1 812.3 L122.6 817.6 L123.1 824.6 L123.6 832.6 L124.1 840.7
L124.6 848.1 L125.1 853.8 L125.6 857.2 L125.9 857.7 L126.1 857.7 L126.6 857.7 L127.1 857.7 L127.5 857.7 L127.6 857.6 L128.1 854.2 L128.6 847.1 L129.1 837.1
L129.6 825.2 L130.1 812.3 L130.6 799.2 L131.1 786.9 L131.6 776.3 L132.1 768.3 L132.6 763.7 L132.9 762.9 L133.1 762.9 L133.6 762.9 L134.1 762.9 L134.5 762.9
L134.6 763.1 L135.1 767.8 L135.6 777.7 L136.1 791.9 L136.6 809.3 L137.1 828.8 L137.6 849.3 L138.1 869.8 L138.6 889.2 L139.1 906.4 L139.6 920.3 L140.1 929.9
L140.6 934.1 L140.7 934.2 L141.1 934.2 L141.6 934.2 L142.1 934.2 L142.3 934.2 L142.6 933.4 L143.1 929.0 L143.6 921.5 L144.1 911.3 L144.6 899.3 L145.1 885.9
L145.6 871.9 L146.1 858.0 L146.6 844.7 L147.1 832.7 L147.6 822.6 L148.1 815.1 L148.6 810.9 L148.9 810.2 L149.1 810.2 L149.6 810.2 L150.1 810.2 L150.5 810.2
L150.6 810.2 L151.1 811.1 L151.6 813.2 L152.1 816.3 L152.6 820.1 L153.1 824.5 L153.6 829.3 L154.1 834.4 L154.6 839.4 L155.1 844.4 L155.6 849.0 L156.1 853.0
L156.6 856.4 L157.1 858.9 L157.6 860.3 L157.9 860.5 L158.1 860.5 L158.6 860.5 L159.1 860.5 L159.5 860.5 L159.6 860.5 L160.1 859.2 L160.6 856.1 L161.1 851.5
L161.6 845.6 L162.1 838.6 L162.6 830.8 L163.1 822.4 L163.6 813.6 L164.1 804.7 L164.6 795.8 L165.1 787.3 L165.6 779.3 L166.1 772.1 L166.6 765.9 L167.1 761.0
L167.6 757.5 L168.1 755.7 L168.3 755.5 L168.6 755.5 L169.1 755.5 L169.6 755.5 L169.9 755.5 L170.1 756.0 L170.6 761.5 L171.1 772.6 L171.6 787.9 L172.1 806.6
L172.6 827.5 L173.1 849.5 L173.6 871.5 L174.1 892.5 L174.6 911.4 L175.1 927.1 L175.6 938.5 L176.1 944.6 L176.3 945.2 L176.6 945.2 L177.1 945.2 L177.6 945.2
L177.9 945.2 L178.1 944.9 L178.6 940.9 L179.1 932.7 L179.6 921.3 L180.1 907.4 L180.6 891.8 L181.1 875.4 L181.6 858.9 L182.1 843.2 L182.6 829.1 L183.1 817.3
L183.6 808.7 L184.1 804.1 L184.3 803.6 L184.6 803.6 L185.1 803.6 L185.6 803.6 L185.9 803.6 L186.1 803.9 L186.6 807.9 L187.1 815.7 L187.6 826.1 L188.1 837.8
L188.6 849.6 L189.1 860.2 L189.6 868.5 L190.1 873.2 L190.3 873.8 L190.6 873.8 L191.1 873.8 L191.6 873.8 L191.9 873.8 L192.1 873.6 L192.6 871.4 L193.1 867.1
L193.6 861.6 L194.1 855.7 L194.6 850.2 L195.1 845.9 L195.6 843.8 L195.8 843.6 L196.1 843.6 L196.6 843.6 L197.1 843.6 L197.4 843.6 L197.6 844.1 L198.1 847.3
L198.6 853.0 L199.1 860.6 L199.6 869.4 L200.1 878.9 L200.6 888.2 L201.1 896.9 L201.6 904.2 L202.1 909.4 L202.6 912.0 L202.8 912.2 L203.1 912.2 L203.6 912.2
L204.1 912.2 L204.4 912.2 L204.6 911.9 L205.1 909.5 L205.6 905.1 L206.1 899.0 L206.6 891.5 L207.1 883.0 L207.6 873.7 L208.1 864.0 L208.6 854.4 L209.1 845.0
L209.6 836.2 L210.1 828.4 L210.6 822.0 L211.1 817.1 L211.6 814.3 L212.0 813.6 L212.1 813.6 L212.6 813.6 L213.1 813.6 L213.6 813.6 L213.6 813.6 L214.1 814.1
L214.6 815.3 L215.1 817.0 L215.6 818.8 L216.1 820.6 L216.6 822.1 L217.1 823.0 L217.4 823.1 L217.6 823.1 L218.1 823.1 L218.6 823.1 L219.0 823.1 L219.1 823.1
L219.6 822.9 L220.1 822.6 L220.6 822.1 L221.1 821.7 L221.6 821.3 L222.1 821.0 L222.4 821.0 L222.6 821.0 L223.1 821.0 L223.6 821.0 L224.0 821.0 L224.1 821.1
L224.6 823.0 L225.1 826.5 L225.6 830.1 L226.1 832.7 L226.4 833.1 L226.6 833.1 L227.1 833.1 L227.6 833.1 L228.0 833.1 L228.1 833.1 L228.6 831.9 L229.1 829.5
L229.6 826.1 L230.1 822.0 L230.6 817.6 L231.1 813.1 L231.6 808.9 L232.1 805.2 L232.6 802.5 L233.1 800.8 L233.4 800.6 L233.6 800.6 L234.1 800.6 L234.6 800.6
L235.0 800.6 L235.1 800.7 L235.6 803.1 L236.1 808.5 L236.6 816.5 L237.1 826.4 L237.6 837.8 L238.1 850.4 L238.6 863.5 L239.1 876.6 L239.6 889.4 L240.1 901.3
L240.6 911.9 L241.1 920.6 L241.6 927.0 L242.1 930.6 L242.4 931.2 L242.6 931.2 L243.1 931.2 L243.6 931.2 L244.0 931.2 L244.1 931.2 L244.6 929.7 L245.1 926.3
L245.6 921.4 L246.1 915.1 L246.6 907.9 L247.1 900.1 L247.6 891.8 L248.1 883.5 L248.6 875.5 L249.1 868.0 L249.6 861.3 L250.1 855.8 L250.6 851.7 L251.1 849.4
L251.4 849.0 L251.6 849.0 L252.1 849.0 L252.6 849.0 L253.0 849.0 L253.1 849.1 L253.6 850.6 L254.1 853.6 L254.6 857.3 L255.1 860.8 L255.6 863.4 L256.0 864.2
L256.1 864.2 L256.6 864.2 L257.1 864.2 L257.6 864.2 L257.6 864.2 L258.1 864.0 L258.6 863.6 L259.1 863.0 L259.6 862.3 L260.1 861.6 L260.6 861.1 L261.1 860.7
L261.4 860.6 L261.6 860.6 L262.1 860.6 L262.6 860.6 L263.0 860.6 L263.1 860.7 L263.6 861.9 L264.1 864.6 L264.6 868.0 L265.1 871.6 L265.6 874.7 L266.1 876.7
L266.4 877.2 L266.6 877.2 L267.1 877.2 L267.6 877.2 L268.0 877.2 L268.1 877.1 L268.6 876.3 L269.1 874.2 L269.6 871.2 L270.1 867.2 L270.6 862.5 L271.1 857.3
L271.6 851.6 L272.1 845.6 L272.6 839.6 L273.1 833.6 L273.6 827.9 L274.1 822.5 L274.6 817.6 L275.1 813.4 L275.6 810.0 L276.1 807.6 L276.6 806.3 L276.8 806.2
L277.1 806.2 L277.6 806.2 L278.1 806.2 L278.4 806.2 L278.6 806.3 L279.1 807.4 L279.6 809.7 L280.1 812.9 L280.6 817.0 L281.1 821.7 L281.6 826.8 L282.1 832.2
L282.6 837.6 L283.1 842.8 L283.6 847.8 L284.1 852.2 L284.6 856.0 L285.1 858.8 L285.6 860.6 L286.1 861.1 L286.1 861.1 L286.6 861.1 L287.1 861.1 L287.6 861.1
L287.7 861.1 L288.1 860.7 L288.6 859.3 L289.1 857.1 L289.6 854.4 L290.1 851.4 L290.6 848.3 L291.1 845.3 L291.6 842.6 L292.1 840.5 L292.6 839.1 L293.1 838.6
L293.1 838.6 L293.6 838.6 L294.1 838.6 L294.6 838.6 L294.7 838.6 L295.1 839.5 L295.6 842.4 L296.1 846.8 L296.6 852.1 L297.1 857.9 L297.6 863.7 L298.1 868.9
L298.6 873.0 L299.1 875.6 L299.5 876.2 L299.6 876.2 L300.1 876.2 L300.6 876.2 L301.1 876.2 L301.1 876.2 L301.6 874.4 L302.1 870.0 L302.6 863.4 L303.1 855.0
L303.6 845.3 L304.1 834.8 L304.6 823.8 L305.1 812.8 L305.6 802.4 L306.1 792.8 L306.6 784.7 L307.1 778.3 L307.6 774.3 L308.1 773.0 L308.1 773.0 L308.6 773.0
L309.1 773.0 L309.6 773.0 L309.7 773.0 L310.1 773.8 L310.6 776.9 L311.1 781.7 L311.6 787.7 L312.1 794.6 L312.6 801.9 L313.1 809.2 L313.6 816.1 L314.1 822.0
L314.6 826.6 L315.1 829.4 L315.5 830.1 L315.6 830.1 L316.1 830.1 L316.6 830.1 L317.1 830.1 L317.1 830.1 L317.6 829.9 L318.1 829.3 L318.6 828.4 L319.1 827.4
L319.6 826.4 L320.1 825.4 L320.6 824.7 L321.1 824.2 L321.3 824.1 L321.6 824.0 L322.1 824.0 L322.6 823.9 L323.1 823.8 L323.6 823.8 L324.1 823.8 L324.6 823.7
L325.1 823.6 L325.6 823.5 L325.7 823.5 L326.1 823.1 L326.6 821.9 L327.1 820.2 L327.6 818.2 L328.1 816.0 L328.6 814.0 L329.1 812.2 L329.6 811.0 L330.1 810.6
L330.1 810.6 L330.6 810.6 L331.1 810.6 L331.6 810.6 L331.7 810.6 L332.1 811.0 L332.6 812.5 L333.1 814.9 L333.6 818.2 L334.1 822.2 L334.6 826.9 L335.1 831.9
L335.6 837.4 L336.1 843.0 L336.6 848.7 L337.1 854.3 L337.6 859.8 L338.1 864.9 L338.6 869.7 L339.1 873.8 L339.6 877.3 L340.1 879.9 L340.6 881.6 L341.1 882.2
L341.1 882.2 L341.6 882.2 L342.1 882.2 L342.6 882.2 L342.7 882.2 L343.1 881.8 L343.6 880.1 L344.1 877.4 L344.6 873.7 L345.1 869.2 L345.6 864.0 L346.1 858.2
L346.6 852.1 L347.1 845.6 L347.6 839.0 L348.1 832.4 L348.6 826.0 L349.1 819.8 L349.6 814.0 L350.1 808.8 L350.6 804.2 L351.1 800.5 L351.6 797.7 L352.1 796.0
L352.5 795.6 L352.6 795.6 L353.1 795.6 L353.6 795.6 L354.1 795.6 L354.1 795.6 L354.6 796.9 L355.1 800.8 L355.6 806.6 L356.1 813.7 L356.6 821.7 L357.1 829.9
L357.6 837.9 L358.1 844.9 L358.6 850.5 L359.1 854.1 L359.5 855.1 L359.6 855.1 L360.1 855.1 L360.6 855.1 L361.1 855.1 L361.1 855.1 L361.6 853.9 L362.1 850.5
L362.6 845.7 L363.1 840.6 L363.6 835.9 L364.1 832.7 L364.5 831.6 L364.6 831.6 L365.1 831.6 L365.6 831.6 L366.1 831.6 L366.1 831.6 L366.6 833.7 L367.1 839.9
L367.6 849.3 L368.1 861.0 L368.6 874.1 L369.1 887.6 L369.6 900.6 L370.1 912.2 L370.6 921.4 L371.1 927.4 L371.5 929.2 L371.6 929.2 L372.1 929.2 L372.6 929.2
L373.1 929.2 L373.1 929.2 L373.6 928.0 L374.1 924.1 L374.6 918.2 L375.1 910.7 L375.6 902.2 L376.1 893.2 L376.6 884.3 L377.1 875.8 L377.6 868.5 L378.1 862.7
L378.6 859.1 L379.0 858.1 L379.1 858.0 L379.6 857.7 L380.1 857.5 L380.6 857.3 L381.1 857.2 L381.6 857.0 L382.1 856.9 L382.6 856.6 L383.1 856.3 L383.4 856.1
L383.6 855.8 L384.1 854.2 L384.6 851.8 L385.1 848.9 L385.6 846.0 L386.1 843.4 L386.6 841.5 L387.1 840.6 L387.2 840.6 L387.6 840.6 L388.1 840.6 L388.6 840.6
L388.8 840.6 L389.1 841.4 L389.6 845.1 L390.1 851.2 L390.6 858.9 L391.1 867.7 L391.6 876.8 L392.1 885.6 L392.6 893.4 L393.1 899.5 L393.6 903.3 L394.0 904.2
L394.1 904.2 L394.6 904.2 L395.1 904.2 L395.6 904.2 L395.6 904.2 L396.1 902.1 L396.6 897.0 L397.1 889.5 L397.6 880.4 L398.1 870.5 L398.6 860.4 L399.1 851.0
L399.6 843.0 L400.1 837.0 L400.6 833.9 L400.8 833.6 L401.1 833.6 L401.6 833.6 L402.1 833.6 L402.4 833.6 L402.6 834.1 L403.1 839.0 L403.6 848.2 L404.1 860.3
L404.6 874.2 L405.1 888.6 L405.6 902.3 L406.1 913.9 L406.6 922.2 L407.1 926.1 L407.2 926.2 L407.6 926.2 L408.1 926.2 L408.6 926.2 L408.8 926.2 L409.1 925.4
L409.6 920.7 L410.1 912.8 L410.6 902.7 L411.1 891.3 L411.6 879.8 L412.1 869.0 L412.6 860.1 L413.1 854.0 L413.6 851.6 L413.6 851.6 L414.1 851.6 L414.6 851.6
L415.1 851.6 L415.2 851.6 L415.6 852.9 L416.1 857.7 L416.6 864.6 L417.1 872.4 L417.6 879.6 L418.1 885.0 L418.6 887.2 L418.6 887.2 L419.1 887.2 L419.6 887.2
L420.1 887.2 L420.2 887.2 L420.6 885.6 L421.1 879.5 L421.6 869.7 L422.1 857.5 L422.6 843.9 L423.1 830.1 L423.6 817.1 L424.1 806.1 L424.6 798.1 L425.1 794.3
L425.2 794.2 L425.6 794.2 L426.1 794.2 L426.6 794.2 L426.8 794.2 L427.1 794.8 L427.6 799.1 L428.1 806.6 L428.6 816.7 L429.1 828.5 L429.6 841.4 L430.1 854.7
L430.6 867.5 L431.1 879.2 L431.6 889.1 L432.1 896.3 L432.6 900.1 L432.8 900.6 L433.1 900.6 L433.6 900.6 L434.1 900.6 L434.4 900.6 L434.6 900.5 L435.1 899.7
L435.6 898.0 L436.1 895.4 L436.6 892.2 L437.1 888.3 L437.6 883.9 L438.1 879.1 L438.6 873.9 L439.1 868.5 L439.6 863.0 L440.1 857.4 L440.6 851.9 L441.1 846.6
L441.6 841.4 L442.1 836.6 L442.6 832.3 L443.1 828.4 L443.6 825.2 L444.1 822.7 L444.6 821.0 L445.1 820.2 L445.3 820.2 L445.6 820.2 L446.1 820.2 L446.6 820.2
L446.9 820.2 L447.1 820.7 L447.6 824.5 L448.1 831.2 L448.6 840.0 L449.1 850.1 L449.6 860.5 L450.1 870.5 L450.6 879.3 L451.1 885.9 L451.6 889.7 L451.9 890.2
L452.1 890.2 L452.6 890.2 L453.1 890.2 L453.5 890.2 L453.6 889.9 L454.1 886.1 L454.6 878.1 L455.1 867.0 L455.6 853.6 L456.1 838.9 L456.6 823.7 L457.1 808.9
L457.6 795.5 L458.1 784.3 L458.6 776.3 L459.1 772.4 L459.3 772.2 L459.6 772.2 L460.1 772.2 L460.6 772.2 L460.9 772.2 L461.1 773.0 L461.6 779.5 L462.1 791.2
L462.6 806.7 L463.1 824.3 L463.6 842.8 L464.1 860.5 L464.6 876.1 L465.1 888.0 L465.6 894.8 L465.9 895.8 L466.1 895.8 L466.6 895.8 L467.1 895.8 L467.5 895.8
L467.6 895.6 L468.1 891.9 L468.6 884.2 L469.1 873.7 L469.6 861.5 L470.1 848.8 L470.6 836.5 L471.1 825.9 L471.6 818.0 L472.1 813.9 L472.3 813.6 L472.6 813.6
L473.1 813.6 L473.6 813.6 L473.9 813.6 L474.1 814.2 L474.6 819.1 L475.1 828.0 L475.6 839.9 L476.1 853.5 L476.6 867.8 L477.1 881.6 L477.6 893.7 L478.1 903.0
L478.6 908.3 L478.9 909.2 L479.1 909.2 L479.6 909.2 L480.1 909.2 L480.5 909.2 L480.6 909.1 L481.1 906.1 L481.6 899.7 L482.1 890.6 L482.6 879.7 L483.1 867.5
L483.6 854.9 L484.1 842.7 L484.6 831.5 L485.1 822.2 L485.6 815.4 L486.1 811.9 L486.3 811.6 L486.6 811.6 L487.1 811.6 L487.6 811.6 L487.9 811.6 L488.1 811.6
L488.6 812.1 L489.1 813.0 L489.6 814.0 L490.1 815.0 L490.6 815.7 L491.1 816.1 L491.1 816.1 L491.6 816.2 L492.1 816.3 L492.6 816.3 L493.1 816.4 L493.6 816.4
L494.1 816.5 L494.6 816.5 L495.1 816.6 L495.6 816.7 L495.7 816.7 L496.1 818.2 L496.6 823.6 L497.1 832.2 L497.6 843.2 L498.1 855.8 L498.6 869.4 L499.1 883.1
L499.6 896.2 L500.1 907.9 L500.6 917.4 L501.1 924.1 L501.6 927.1 L501.7 927.2 L502.1 927.2 L502.6 927.2 L503.1 927.2 L503.3 927.2 L503.6 926.3 L504.1 921.3
L504.6 912.5 L505.1 900.9 L505.6 887.5 L506.1 873.1 L506.6 858.8 L507.1 845.3 L507.6 833.6 L508.1 824.8 L508.6 819.6 L508.9 818.6 L509.1 818.6 L509.6 818.6
L510.1 818.6 L510.5 818.6 L510.6 818.7 L511.1 821.0 L511.6 826.3 L512.1 834.1 L512.6 843.9 L513.1 855.1 L513.6 867.1 L514.1 879.5 L514.6 891.7 L515.1 903.1
L515.6 913.3 L516.1 921.7 L516.6 927.7 L517.1 930.9 L517.3 931.2 L517.6 931.2 L518.1 931.2 L518.6 931.2 L518.9 931.2 L519.1 931.0 L519.6 928.1 L520.1 922.3
L520.6 913.9 L521.1 903.5 L521.6 891.3 L522.1 877.8 L522.6 863.4 L523.1 848.7 L523.6 833.9 L524.1 819.5 L524.6 805.9 L525.1 793.5 L525.6 782.8 L526.1 774.2
L526.6 768.1 L527.1 764.9 L527.3 764.5 L527.6 764.5 L528.1 764.5 L528.6 764.5 L528.9 764.5 L529.1 764.7 L529.6 767.0 L530.1 771.6 L530.6 778.0 L531.1 785.9
L531.6 794.6 L532.1 803.7 L532.6 812.8 L533.1 821.4 L533.6 829.0 L534.1 835.1 L534.6 839.3 L535.1 841.1 L535.1 841.1 L535.6 841.3 L536.1 841.4 L536.6 841.5
L537.1 841.6 L537.6 841.6 L538.1 841.7 L538.6 841.7 L539.1 841.8 L539.6 841.9 L540.1 842.1 L540.2 842.1 L540.6 843.1 L541.1 845.7 L541.6 849.4 L542.1 854.0
L542.6 858.9 L543.1 863.7 L543.6 868.1 L544.1 871.6 L544.6 873.7 L545.0 874.2 L545.1 874.2 L545.6 874.2 L546.1 874.2 L546.6 874.2 L546.6 874.2 L547.1 872.8
L547.6 869.4 L548.1 864.4 L548.6 858.1 L549.1 850.9 L549.6 843.3 L550.1 835.5 L550.6 828.0 L551.1 821.2 L551.6 815.3 L552.1 810.9 L552.6 808.2 L553.0 807.6
L553.1 807.6 L553.6 807.6 L554.1 807.6 L554.6 807.6 L554.6 807.6 L555.1 809.1 L555.6 812.2 L556.1 815.7 L556.6 818.4 L557.0 819.1 L557.1 819.1 L557.6 819.1
L558.1 819.1 L558.6 819.1 L558.6 819.1 L559.1 817.2 L559.6 812.6 L560.1 806.4 L560.6 799.5 L561.1 792.8 L561.6 787.3 L562.1 784.1 L562.4 783.6 L562.6 783.6
L563.1 783.6 L563.6 783.6 L564.0 783.6 L564.1 783.7 L564.6 785.6 L565.1 789.6 L565.6 795.2 L566.1 801.7 L566.6 808.6 L567.1 815.4 L567.6 821.5 L568.1 826.3
L568.6 829.4 L569.0 830.1 L569.1 830.1 L569.6 830.1 L570.1 830.1 L570.6 830.1 L570.6 830.1 L571.1 827.9 L571.6 822.3 L572.1 814.4 L572.6 805.3 L573.1 796.1
L573.6 787.7 L574.1 781.3 L574.6 777.8 L574.8 777.6 L575.1 777.6 L575.6 777.6 L576.1 777.6 L576.4 777.6 L576.6 778.3 L577.1 785.2 L577.6 797.9 L578.1 814.6
L578.6 833.3 L579.1 852.4 L579.6 870.0 L580.1 884.2 L580.6 893.4 L581.0 895.8 L581.1 895.8 L581.6 895.8 L582.1 895.8 L582.6 895.8 L582.6 895.8 L583.1 893.3
L583.6 886.6 L584.1 876.5 L584.6 863.9 L585.1 849.8 L585.6 835.0 L586.1 820.4 L586.6 806.9 L587.1 795.3 L587.6 786.5 L588.1 781.4 L588.4 780.6 L588.6 780.6
L589.1 780.6 L589.6 780.6 L590.0 780.6 L590.1 780.7 L590.6 784.0 L591.1 790.8 L591.6 799.5 L592.1 808.5 L592.6 816.3 L593.1 821.2 L593.4 822.1 L593.6 822.1
L594.1 822.1 L594.6 822.1 L595.0 822.1 L595.1 822.0 L595.6 819.9 L596.1 815.3 L596.6 809.2 L597.1 802.6 L597.6 796.3 L598.1 791.3 L598.6 788.5 L598.8 788.2
L599.1 788.2 L599.6 788.2 L600.1 788.2 L600.4 788.2 L600.6 788.6 L601.1 792.9 L601.6 801.0 L602.1 811.8 L602.6 824.1 L603.1 836.6 L603.6 848.3 L604.1 857.8
L604.6 864.0 L605.0 865.8 L605.1 865.8 L605.6 865.8 L606.1 865.8 L606.6 865.8 L606.6 865.8 L607.1 864.5 L607.6 861.3 L608.1 856.8 L608.6 852.0 L609.1 847.6
L609.6 844.6 L610.0 843.6 L610.1 843.6 L610.6 843.6 L611.1 843.6 L611.6 843.6 L611.6 843.6 L612.1 845.3 L612.6 850.0 L613.1 856.8 L613.6 864.8 L614.1 873.1
L614.6 880.6 L615.1 886.5 L615.6 889.8 L615.8 890.2 L616.1 890.2 L616.6 890.2 L617.1 890.2 L617.4 890.2 L617.6 890.0 L618.1 887.0 L618.6 881.0 L619.1 872.5
L619.6 862.3 L620.1 850.8 L620.6 838.7 L621.1 826.5 L621.6 814.9 L622.1 804.5 L622.6 795.8 L623.1 789.4 L623.6 786.0 L623.8 785.6 L624.1 785.6 L624.6 785.6
L625.1 785.6 L625.4 785.6 L625.6 785.8 L626.1 789.0 L626.6 795.6 L627.1 804.7 L627.6 815.8 L628.1 828.0 L628.6 840.7 L629.1 853.2 L629.6 864.8 L630.1 874.7
L630.6 882.3 L631.1 886.8 L631.5 887.8 L631.6 887.8 L632.1 887.8 L632.6 887.8 L633.1 887.8 L633.1 887.8 L633.6 886.9 L634.1 884.8 L634.6 881.6 L635.1 877.5
L635.6 872.6 L636.1 867.2 L636.6 861.3 L637.1 855.2 L637.6 849.1 L638.1 843.1 L638.6 837.4 L639.1 832.2 L639.6 827.6 L640.1 823.8 L640.6 821.0 L641.1 819.4
L641.5 819.0 L641.6 819.0 L642.1 819.0 L642.6 819.0 L643.1 819.0 L643.1 819.0 L643.6 820.6 L644.1 824.5 L644.6 830.3 L645.1 837.5 L645.6 845.8 L646.1 854.7
L646.6 863.7 L647.1 872.4 L647.6 880.4 L648.1 887.2 L648.6 892.3 L649.1 895.5 L649.5 896.2 L649.6 896.2 L650.1 896.2 L650.6 896.2 L651.1 896.2 L651.1 896.2
L651.6 895.6 L652.1 894.1 L652.6 892.1 L653.1 890.1 L653.6 888.2 L654.1 887.0 L654.5 886.7 L654.6 886.7 L655.1 886.7 L655.6 886.7 L656.1 886.7 L656.1 886.7
L656.6 888.0 L657.1 891.5 L657.6 896.5 L658.1 902.8 L658.6 909.9 L659.1 917.3 L659.6 924.6 L660.1 931.3 L660.6 937.1 L661.1 941.4 L661.6 943.9 L661.9 944.2
L662.1 944.2 L662.6 944.2 L663.1 944.2 L663.5 944.2 L663.6 944.1 L664.1 940.9 L664.6 934.1 L665.1 924.4 L665.6 912.8 L666.1 900.0 L666.6 887.0 L667.1 874.4
L667.6 863.2 L668.1 854.3 L668.6 848.3 L669.1 846.2 L669.1 846.2 L669.6 846.2 L670.1 846.2 L670.6 846.2 L670.7 846.2 L671.1 847.1 L671.6 850.1 L672.1 854.6
L672.6 859.8 L673.1 865.0 L673.6 869.4 L674.1 872.4 L674.5 873.2 L674.6 873.2 L675.1 873.2 L675.6 873.2 L676.1 873.2 L676.1 873.2 L676.6 871.2 L677.1 866.5
L677.6 860.3 L678.1 854.2 L678.6 849.5 L679.1 847.6 L679.1 847.6 L679.6 847.6 L680.1 847.6 L680.6 847.6 L680.7 847.6 L681.1 848.8 L681.6 853.1 L682.1 859.7
L682.6 867.8 L683.1 876.3 L683.6 884.5 L684.1 891.5 L684.6 896.4 L685.1 898.2 L685.1 898.2 L685.6 898.2 L686.1 898.2 L686.6 898.2 L686.7 898.2 L687.1 897.0
L687.6 892.4 L688.1 885.0 L688.6 875.7 L689.1 865.2 L689.6 854.2 L690.1 843.5 L690.6 833.8 L691.1 825.9 L691.6 820.6 L692.1 818.6 L692.1 818.6 L692.6 818.6
L693.1 818.6 L693.6 818.6 L693.7 818.6 L694.1 820.8 L694.6 829.3 L695.1 841.9 L695.6 856.7 L696.1 871.6 L696.6 884.5 L697.1 893.2 L697.5 895.8 L697.6 895.8
L698.1 895.8 L698.6 895.8 L699.1 895.8 L699.1 895.8 L699.6 894.0 L700.1 889.0 L700.6 881.5 L701.1 872.4 L701.6 862.6 L702.1 853.0 L702.6 844.4 L703.1 837.6
L703.6 833.4 L703.9 832.6 L704.1 832.6 L704.6 832.6 L705.1 832.6 L705.5 832.6 L705.6 832.7 L706.1 835.6 L706.6 841.9 L707.1 850.3 L707.6 859.3 L708.1 867.5
L708.6 873.6 L709.1 876.2 L709.1 876.2 L709.6 876.2 L710.1 876.2 L710.6 876.2 L710.7 876.2 L711.1 875.0 L711.6 869.9 L712.1 861.7 L712.6 851.0 L713.1 838.6
L713.6 825.5 L714.1 812.3 L714.6 799.8 L715.1 788.8 L715.6 780.2 L716.1 774.6 L716.5 773.0 L716.6 773.0 L717.1 773.0 L717.6 773.0 L718.1 773.0 L718.1 773.0
L718.6 775.4 L719.1 782.6 L719.6 793.3 L720.1 806.1 L720.6 819.5 L721.1 832.2 L721.6 842.8 L722.1 849.9 L722.6 852.1 L722.6 852.1 L723.1 852.1 L723.6 852.1
L724.1 852.1 L724.2 852.1 L724.6 850.9 L725.1 847.1 L725.6 841.3 L726.1 834.1 L726.6 826.0 L727.1 817.6 L727.6 809.6 L728.1 802.3 L728.6 796.6 L729.1 792.8
L729.6 791.6 L729.6 791.6 L730.1 791.6 L730.6 791.6 L731.1 791.6 L731.2 791.6 L731.6 793.0 L732.1 796.9 L732.6 800.9 L733.1 803.1 L733.2 803.1 L733.6 803.1
L734.1 803.1 L734.6 803.1 L734.8 803.1 L735.1 802.9 L735.6 801.9 L736.1 800.5 L736.6 799.1 L737.1 798.0 L737.6 797.6 L737.6 797.6 L738.1 797.6 L738.6 797.6
L739.1 797.6 L739.2 797.6 L739.6 798.8 L740.1 803.0 L740.6 809.6 L741.1 818.1 L741.6 828.1 L742.1 838.9 L742.6 850.1 L743.1 861.2 L743.6 871.7 L744.1 881.0
L744.6 888.7 L745.1 894.1 L745.6 896.9 L745.8 897.2 L746.1 897.2 L746.6 897.2 L747.1 897.2 L747.4 897.2 L747.6 896.8 L748.1 892.6 L748.6 884.8 L749.1 874.4
L749.6 862.5 L750.1 850.3 L750.6 838.6 L751.1 828.7 L751.6 821.6 L752.1 818.3 L752.2 818.2 L752.6 818.2 L753.1 818.2 L753.6 818.2 L753.8 818.2 L754.1 818.6
L754.6 821.0 L755.1 824.8 L755.6 829.2 L756.1 833.5 L756.6 836.8 L757.1 838.5 L757.2 838.5 L757.6 838.5 L758.1 838.5 L758.6 838.5 L758.8 838.5 L759.1 838.3
L759.6 836.7 L760.1 834.2 L760.6 831.1 L761.1 827.9 L761.6 824.8 L762.1 822.5 L762.6 821.1 L762.8 821.0 L763.1 821.0 L763.6 821.0 L764.1 821.0 L764.4 821.0
L764.6 821.3 L765.1 824.5 L765.6 830.4 L766.1 838.3 L766.6 847.1 L767.1 855.9 L767.6 863.9 L768.1 870.0 L768.6 873.4 L768.8 873.8 L769.1 873.8 L769.6 873.8
L770.1 873.8 L770.4 873.8 L770.6 873.6 L771.1 871.0 L771.6 866.0 L772.1 859.2 L772.6 851.2 L773.1 842.6 L773.6 833.9 L774.1 825.8 L774.6 818.9 L775.1 813.7
L775.6 810.9 L775.8 810.6 L776.1 810.6 L776.6 810.6 L777.1 810.6 L777.4 810.6 L777.6 810.9 L778.1 814.3 L778.6 820.9 L779.1 829.7 L779.6 840.0 L780.1 850.6
L780.6 860.8 L781.1 869.5 L781.6 875.9 L782.1 879.0 L782.2 879.2 L782.6 879.2 L783.1 879.2 L783.6 879.2 L783.8 879.2 L784.1 878.9 L784.6 877.1 L785.1 874.2
L785.6 871.2 L786.1 868.8 L786.6 867.7 L786.6 867.7 L787.1 867.7 L787.6 867.7 L788.1 867.7 L788.2 867.7 L788.6 868.2 L789.1 870.7 L789.6 874.7 L790.1 879.8
L790.6 885.5 L791.1 891.3 L791.6 896.7 L792.1 901.4 L792.6 904.8 L793.1 906.5 L793.3 906.6 L793.6 906.6 L794.1 906.6 L794.6 906.6 L794.9 906.6 L795.1 906.3
L795.6 904.4 L796.1 900.9 L796.6 896.3 L797.1 891.1 L797.6 885.7 L798.1 880.5 L798.6 875.9 L799.1 872.5 L799.6 870.5 L799.9 870.3 L800.1 870.3 L800.6 870.3
L801.1 870.3 L801.5 870.3 L801.6 870.4 L802.1 872.2 L802.6 876.0 L803.1 880.9 L803.6 886.6 L804.1 892.3 L804.6 897.5 L805.1 901.5 L805.6 903.9 L805.9 904.2
L806.1 904.2 L806.6 904.2 L807.1 904.2 L807.5 904.2 L807.6 904.1 L808.1 901.8 L808.6 897.2 L809.1 891.1 L809.6 884.1 L810.1 877.1 L810.6 870.6 L811.1 865.6
L811.6 862.7 L811.9 862.3 L812.1 862.3 L812.6 862.3 L813.1 862.3 L813.5 862.3 L813.6 862.4 L814.1 864.8 L814.6 869.9 L815.1 877.1 L815.6 885.8 L816.1 895.4
L816.6 905.3 L817.1 915.0 L817.6 923.7 L818.1 931.1 L818.6 936.4 L819.1 939.0 L819.3 939.2 L819.6 939.2 L820.1 939.2 L820.6 939.2 L820.9 939.2 L821.1 938.9
L821.6 936.1 L822.1 931.0 L822.6 923.9 L823.1 915.5 L823.6 906.2 L824.1 896.7 L824.6 887.4 L825.1 878.9 L825.6 871.6 L826.1 866.2 L826.6 863.1 L826.9 862.7
L827.1 862.7 L827.6 862.7 L828.1 862.7 L828.5 862.7 L828.6 862.8 L829.1 865.7 L829.6 871.6 L830.1 879.1 L830.6 886.8 L831.1 893.4 L831.6 897.5 L831.9 898.2
L832.1 898.2 L832.6 898.2 L833.1 898.2 L833.5 898.2 L833.6 898.1 L834.1 896.1 L834.6 891.7 L835.1 885.3 L835.6 877.3 L836.1 868.2 L836.6 858.4 L837.1 848.4
L837.6 838.6 L838.1 829.3 L838.6 821.2 L839.1 814.5 L839.6 809.7 L840.1 807.2 L840.3 807.0 L840.6 807.0 L841.1 807.0 L841.6 807.0 L841.9 807.0 L842.1 807.3
L842.6 810.0 L843.1 815.0 L843.6 821.7 L844.1 829.2 L844.6 836.9 L845.1 843.9 L845.6 849.6 L846.1 853.1 L846.1 853.1 L846.6 855.1 L847.1 856.6 L847.6 857.7
L848.1 858.8 L848.6 860.0 L849.1 861.5 L849.5 863.2 L849.6 863.6 L850.1 867.3 L850.6 872.8 L851.1 879.9 L851.6 888.2 L852.1 897.5 L852.6 907.4 L853.1 917.7
L853.6 928.0 L854.1 938.0 L854.6 947.5 L855.1 956.2 L855.6 963.6 L856.1 969.6 L856.6 973.9 L857.1 976.0 L857.3 976.3 L857.6 976.3 L858.1 976.3 L858.6 976.3
L858.9 976.3 L859.1 975.9 L859.6 971.6 L860.1 963.2 L860.6 951.8 L861.1 938.3 L861.6 923.8 L862.1 909.3 L862.6 895.7 L863.1 884.1 L863.6 875.4 L864.1 870.8
L864.3 870.3 L864.6 870.3 L865.1 870.3 L865.6 870.3 L865.9 870.3 L866.1 870.5 L866.6 873.6 L867.1 879.4 L867.6 886.9 L868.1 895.1 L868.6 902.9 L869.1 909.3
L869.6 913.4 L869.9 914.2 L870.1 914.2 L870.6 914.2 L871.1 914.2 L871.5 914.2 L871.6 914.2 L872.1 913.4 L872.6 911.6 L873.1 909.5 L873.6 907.6 L874.1 906.5
L874.3 906.3 L874.6 906.3 L875.1 906.3 L875.6 906.3 L875.9 906.3 L876.1 906.5 L876.6 909.5 L877.1 915.3 L877.6 923.0 L878.1 931.6 L878.6 940.3 L879.1 948.2
L879.6 954.3 L880.1 957.8 L880.3 958.3 L880.6 958.3 L881.1 958.3 L881.6 958.3 L881.9 958.3 L882.1 958.0 L882.6 953.9 L883.1 945.5 L883.6 933.6 L884.1 919.1
L884.6 902.9 L885.1 885.8 L885.6 868.6 L886.1 852.1 L886.6 837.3 L887.1 824.9 L887.6 815.8 L888.1 810.8 L888.4 810.2 L888.6 810.2 L889.1 810.2 L889.6 810.2
L890.0 810.2 L890.1 810.4 L890.6 814.2 L891.1 821.9 L891.6 832.9 L892.1 846.3 L892.6 861.4 L893.1 877.3 L893.6 893.3 L894.1 908.6 L894.6 922.5 L895.1 934.0
L895.6 942.5 L896.1 947.2 L896.4 947.8 L896.6 947.8 L897.1 947.8 L897.6 947.8 L898.0 947.8 L898.1 947.7 L898.6 945.7 L899.1 941.5 L899.6 935.7 L900.1 929.1
L900.6 922.1 L901.1 915.5 L901.6 909.7 L902.1 905.4 L902.6 903.2 L902.8 903.1 L903.1 903.1 L903.6 903.1 L904.1 903.1 L904.4 903.1 L904.6 903.4 L905.1 905.9
L905.6 909.2 L906.1 911.8 L906.4 912.2 L906.6 912.2 L907.1 912.2 L907.6 912.2 L908.0 912.2 L908.1 912.1 L908.6 910.0 L909.1 905.6 L909.6 899.0 L910.1 890.7
L910.6 880.9 L911.1 870.1 L911.6 858.6 L912.1 846.7 L912.6 834.7 L913.1 823.0 L913.6 812.0 L914.1 801.9 L914.6 793.1 L915.1 786.0 L915.6 780.8 L916.1 778.0
L916.4 777.6 L916.6 777.6 L917.1 777.6 L917.6 777.6 L918.0 777.6 L918.1 777.6 L918.6 778.7 L919.1 781.0 L919.6 784.6 L920.1 789.1 L920.6 794.4 L921.1 800.4
L921.6 806.9 L922.1 813.8 L922.6 820.8 L923.1 827.9 L923.6 834.9 L924.1 841.5 L924.6 847.7 L925.1 853.3 L925.6 858.1 L926.1 862.0 L926.6 864.8 L927.1 866.3
L927.4 866.6 L927.6 866.6 L928.1 866.6 L928.6 866.6 L929.0 866.6 L929.1 866.5 L929.6 864.9 L930.1 861.6 L930.6 856.8 L931.1 851.3 L931.6 845.3 L932.1 839.5
L932.6 834.2 L933.1 830.0 L933.6 827.3 L934.0 826.6 L934.1 826.6 L934.6 826.6 L935.1 826.6 L935.6 826.6 L935.6 826.6 L936.1 828.4 L936.6 833.1 L937.1 839.9
L937.6 848.2 L938.1 857.1 L938.6 865.9 L939.1 873.7 L939.6 879.9 L940.1 883.5 L940.4 884.2 L940.6 884.2 L941.1 884.2 L941.6 884.2 L942.0 884.2 L942.1 884.1
L942.6 881.5 L943.1 875.7 L943.6 867.5 L944.1 857.6 L944.6 846.8 L945.1 835.8 L945.6 825.4 L946.1 816.4 L946.6 809.5 L947.1 805.4 L947.4 804.6 L947.6 804.6
L948.1 804.6 L948.6 804.6 L949.0 804.6 L949.1 804.7 L949.6 807.8 L950.1 814.9 L950.6 824.9 L951.1 836.5 L951.6 848.9 L952.1 860.9 L952.6 871.4 L953.1 879.3
L953.6 883.7 L953.8 884.2 L954.1 884.2 L954.6 884.2 L955.1 884.2 L955.4 884.2 L955.6 883.9 L956.1 881.0 L956.6 875.5 L957.1 868.2 L957.6 860.0 L958.1 851.8
L958.6 844.3 L959.1 838.6 L959.6 835.4 L959.8 835.0 L960.1 835.0 L960.6 835.0 L961.1 835.0 L961.4 835.0 L961.6 835.3 L962.1 839.2 L962.6 846.4 L963.1 855.2
L963.6 864.2 L964.1 871.6 L964.6 876.0 L964.8 876.6 L965.1 876.6 L965.6 876.6 L966.1 876.6 L966.4 876.6 L966.6 876.4 L967.1 873.4 L967.6 867.7 L968.1 859.7
L968.6 850.3 L969.1 840.1 L969.6 829.9 L970.1 820.3 L970.6 812.1 L971.1 806.0 L971.6 802.6 L971.8 802.2 L972.1 802.2 L972.6 802.2 L973.1 802.2 L973.4 802.2
L973.6 802.6 L974.1 808.0 L974.6 818.7 L975.1 833.1 L975.6 849.5 L976.1 866.4 L976.6 882.2 L977.1 895.2 L977.6 903.8 L978.1 906.6 L978.1 906.6 L978.6 906.6
L979.1 906.6 L979.6 906.6 L979.7 906.6 L980.1 903.5 L980.6 893.9 L981.1 879.3 L981.6 861.2 L982.1 841.1 L982.6 820.5 L983.1 801.0 L983.6 784.1 L984.1 771.3
L984.6 764.1 L984.9 763.1 L985.1 763.1 L985.6 763.1 L986.1 763.1 L986.5 763.1 L986.6 763.5 L987.1 769.4 L987.6 781.6 L988.1 798.7 L988.6 819.1 L989.1 841.4
L989.6 864.2 L990.1 886.0 L990.6 905.4 L991.1 920.8 L991.6 930.9 L992.1 934.2 L992.1 934.2 L992.6 934.2 L993.1 934.2 L993.6 934.2 L993.7 934.2 L994.1 931.1
L994.6 921.0 L995.1 905.5 L995.6 886.1 L996.1 864.6 L996.6 842.5 L997.1 821.5 L997.6 803.2 L998.1 789.3 L998.6 781.4 L998.9 780.2 L999.1 780.2 L999.6 780.2
L1000.1 780.2 L1000.5 780.2 L1000.6 780.4 L1001.1 784.9 L1001.6 794.6 L1002.1 808.5 L1002.6 825.5 L1003.1 844.6 L1003.6 864.9 L1004.1 885.4 L1004.6 905.0 L1005.1 922.8
L1005.6 937.7 L1006.1 948.7 L1006.6 954.9 L1006.9 955.9 L1007.1 955.9 L1007.6 955.9 L1008.1 955.9 L1008.5 955.9 L1008.6 955.8 L1009.1 954.4 L1009.6 951.4 L1010.1 947.1
L1010.6 941.7 L1011.1 935.5 L1011.6 928.8 L1012.1 921.9 L1012.6 915.2 L1013.1 908.8 L1013.6 903.0 L1014.1 898.2 L1014.6 894.6 L1015.1 892.5 L1015.3 892.2 L1015.6 891.9
L1016.1 891.5 L1016.6 891.2 L1017.1 890.9 L1017.6 890.7 L1018.1 890.5 L1018.6 890.3 L1019.1 890.1 L1019.6 889.8 L1020.1 889.4 L1020.3 889.2 L1020.6 888.6 L1021.1 886.7
L1021.6 883.8 L1022.1 879.8 L1022.6 875.1 L1023.1 869.7 L1023.6 863.7 L1024.1 857.4 L1024.6 850.8 L1025.1 844.1 L1025.6 837.5 L1026.1 830.9 L1026.6 824.8 L1027.1 819.0
L1027.6 813.8 L1028.1 809.4 L1028.6 805.8 L1029.1 803.3 L1029.6 801.8 L1029.9 801.6 L1030.1 801.6 L1030.6 801.6 L1031.1 801.6 L1031.5 801.6 L1031.6 801.6 L1032.1 803.9
L1032.6 809.1 L1033.1 816.6 L1033.6 826.0 L1034.1 836.6 L1034.6 848.0 L1035.1 859.7 L1035.6 871.0 L1036.1 881.4 L1036.6 890.5 L1037.1 897.7 L1037.6 902.4 L1038.1 904.2
L1038.1 904.2 L1038.6 904.2 L1039.1 904.2 L1039.6 904.2 L1039.7 904.2 L1040.1 903.5 L1040.6 900.7 L1041.1 896.3 L1041.6 890.8 L1042.1 884.8 L1042.6 878.8 L1043.1 873.3
L1043.6 868.8 L1044.1 865.9 L1044.5 865.1 L1044.6 865.1 L1045.1 865.1 L1045.6 865.1 L1046.1 865.1 L1046.1 865.1 L1046.6 866.1 L1047.1 868.7 L1047.6 871.8 L1048.1 874.3
L1048.5 875.2 L1048.6 875.2 L1049.1 875.2 L1049.6 875.2 L1050.1 875.2 L1050.1 875.2 L1050.6 874.1 L1051.1 870.8 L1051.6 865.8 L1052.1 859.4 L1052.6 852.2 L1053.1 844.5
L1053.6 836.8 L1054.1 829.5 L1054.6 823.1 L1055.1 817.9 L1055.6 814.4 L1056.1 813.0 L1056.1 813.0 L1056.6 813.0 L1057.1 813.0 L1057.6 813.0 L1057.7 813.0 L1058.1 813.9
L1058.6 817.6 L1059.1 824.0 L1059.6 832.3 L1060.1 842.4 L1060.6 853.5 L1061.1 865.4 L1061.6 877.4 L1062.1 889.3 L1062.6 900.4 L1063.1 910.3 L1063.6 918.6 L1064.1 924.8
L1064.6 928.5 L1065.0 929.2 L1065.1 929.2 L1065.6 929.2 L1066.1 929.2 L1066.6 929.2 L1066.6 929.2 L1067.1 927.7 L1067.6 924.2 L1068.1 919.0 L1068.6 912.5 L1069.1 905.2
L1069.6 897.6 L1070.1 890.0 L1070.6 882.9 L1071.1 876.7 L1071.6 871.8 L1072.1 868.6 L1072.6 867.7 L1072.6 867.7 L1073.1 867.7 L1073.6 867.7 L1074.1 867.7 L1074.2 867.7
L1074.6 868.2 L1075.1 869.9 L1075.6 872.6 L1076.1 875.8 L1076.6 879.2 L1077.1 882.7 L1077.6 885.8 L1078.1 888.3 L1078.6 889.8 L1079.0 890.2 L1079.1 890.2 L1079.6 890.2
L1080.1 890.2 L1080.6 890.2 L1080.6 890.2 L1081.1 889.5 L1081.6 887.9 L1082.1 885.7 L1082.6 883.1 L1083.1 880.4 L1083.6 877.9 L1084.1 875.9 L1084.6 874.6 L1085.0 874.3
L1085.1 874.3 L1085.6 874.3 L1086.1 874.3 L1086.6 874.3 L1086.6 874.3 L1087.1 875.4 L1087.6 878.2 L1088.1 882.4 L1088.6 887.7 L1089.1 893.9 L1089.6 900.5 L1090.1 907.2
L1090.6 913.9 L1091.1 920.0 L1091.6 925.5 L1092.1 929.9 L1092.6 932.9 L1093.1 934.2 L1093.2 934.2 L1093.6 934.2 L1094.1 934.2 L1094.6 934.2 L1094.8 934.2 L1095.1 933.7
L1095.6 930.9 L1096.1 925.9 L1096.6 919.2 L1097.1 911.2 L1097.6 902.3 L1098.1 892.9 L1098.6 883.3 L1099.1 874.2 L1099.6 865.7 L1100.1 858.5 L1100.6 852.7 L1101.1 849.0
L1101.6 847.6 L1101.6 847.6 L1102.1 847.6 L1102.6 847.6 L1103.1 847.6 L1103.2 847.6 L1103.6 848.3 L1104.1 850.6 L1104.6 853.9 L1105.1 857.8 L1105.6 861.6 L1106.1 864.6
L1106.6 866.4 L1106.8 866.6 L1107.1 866.6 L1107.6 866.6 L1108.1 866.6 L1108.4 866.6 L1108.6 866.4 L1109.1 865.0 L1109.6 862.2 L1110.1 858.2 L1110.6 853.2 L1111.1 847.5
L1111.6 841.4 L1112.1 835.0 L1112.6 828.6 L1113.1 822.4 L1113.6 816.7 L1114.1 811.7 L1114.6 807.6 L1115.1 804.7 L1115.6 803.2 L1115.8 803.0 L1116.1 803.0 L1116.6 803.0
L1117.1 803.0 L1117.4 803.0 L1117.6 803.1 L1118.1 804.3 L1118.6 806.9 L1119.1 810.7 L1119.6 815.4 L1120.1 820.9 L1120.6 827.2 L1121.1 833.9 L1121.6 841.0 L1122.1 848.2
L1122.6 855.4 L1123.1 862.5 L1123.6 869.3 L1124.1 875.6 L1124.6 881.2 L1125.1 886.0 L1125.6 889.9 L1126.1 892.6 L1126.6 894.0 L1126.8 894.2 L1127.1 894.2 L1127.6 894.2
L1128.1 894.2 L1128.4 894.2 L1128.6 894.1 L1129.1 892.3 L1129.6 888.7 L1130.1 883.7 L1130.6 877.6 L1131.1 870.8 L1131.6 863.7 L1132.1 856.6 L1132.6 850.0 L1133.1 844.1
L1133.6 839.5 L1134.1 836.3 L1134.6 835.0 L1134.6 835.0 L1135.1 835.0 L1135.6 835.0 L1136.1 835.0 L1136.2 835.0 L1136.6 835.9 L1137.1 839.5 L1137.6 845.3 L1138.1 852.6
L1138.6 860.5 L1139.1 868.3 L1139.6 875.3 L1140.1 880.7 L1140.6 883.8 L1140.9 884.2 L1141.1 884.2 L1141.6 884.2 L1142.1 884.2 L1142.5 884.2 L1142.6 884.0 L1143.1 881.6
L1143.6 876.8 L1144.1 870.7 L1144.6 864.1 L1145.1 858.0 L1145.6 853.3 L1146.1 850.8 L1146.3 850.6 L1146.6 850.6 L1147.1 850.6 L1147.6 850.6 L1147.9 850.6 L1148.1 851.4
L1148.6 857.0 L1149.1 867.3 L1149.6 881.0 L1150.1 896.9 L1150.6 913.9 L1151.1 930.8 L1151.6 946.4 L1152.1 959.6 L1152.6 969.2 L1153.1 973.9 L1153.3 974.3 L1153.6 974.3
L1154.1 974.3 L1154.6 974.3 L1154.9 974.3 L1155.1 973.6 L1155.6 968.5 L1156.1 959.1 L1156.6 946.3 L1157.1 931.1 L1157.6 914.4 L1158.1 897.2 L1158.6 880.4 L1159.1 865.1
L1159.6 852.1 L1160.1 842.4 L1160.6 837.0 L1160.9 836.2 L1161.1 836.2 L1161.6 836.2 L1162.1 836.2 L1162.5 836.2 L1162.6 836.4 L1163.1 840.9 L1163.6 850.0 L1164.1 862.2
L1164.6 876.1 L1165.1 890.3 L1165.6 903.1 L1166.1 913.3 L1166.6 919.3 L1166.9 920.2 L1167.1 920.2 L1167.6 920.2 L1168.1 920.2 L1168.5 920.2 L1168.6 920.0 L1169.1 915.6
L1169.6 906.4 L1170.1 893.8 L1170.6 879.1 L1171.1 863.6 L1171.6 848.7 L1172.1 835.7 L1172.6 826.1 L1173.1 821.0 L1173.3 820.6 L1173.6 820.6 L1174.1 820.6 L1174.6 820.6
L1174.9 820.6 L1175.1 821.0 L1175.6 824.4 L1176.1 830.8 L1176.6 839.2 L1177.1 848.9 L1177.6 858.8 L1178.1 868.2 L1178.6 876.2 L1179.1 881.9 L1179.6 884.5 L1179.7 884.6
L1180.1 884.6 L1180.6 884.6 L1181.1 884.6 L1181.3 884.6 L1181.6 883.6 L1182.1 878.7 L1182.6 870.6 L1183.1 860.8 L1183.6 850.5 L1184.1 840.9 L1184.6 833.5 L1185.1 829.4
L1185.3 829.0 L1185.6 829.0 L1186.1 829.0 L1186.6 829.0 L1186.9 829.0 L1187.1 829.5 L1187.6 835.0 L1188.1 845.4 L1188.6 859.4 L1189.1 875.9 L1189.6 893.6 L1190.1 911.3
L1190.6 927.8 L1191.1 941.9 L1191.6 952.2 L1192.1 957.7 L1192.3 958.3 L1192.6 958.3 L1193.1 958.3 L1193.6 958.3 L1193.9 958.3 L1194.1 958.1 L1194.6 955.9 L1195.1 951.6
L1195.6 945.7 L1196.1 938.5 L1196.6 930.3 L1197.1 921.7 L1197.6 912.9 L1198.1 904.5 L1198.6 896.7 L1199.1 889.9 L1199.6 884.7 L1200.1 881.2 L1200.1 881.2 L1200.6 879.2
L1201.1 877.7 L1201.6 876.4 L1202.1 875.4 L1202.6 874.3 L1203.1 873.0 L1203.6 871.4 L1204.1 869.2 L1204.1 869.2 L1204.6 864.7 L1205.1 856.3 L1205.6 844.8 L1206.1 831.0
L1206.6 815.7 L1207.1 799.6 L1207.6 783.6 L1208.1 768.3 L1208.6 754.6 L1209.1 743.2 L1209.6 735.0 L1210.1 730.6 L1210.3 730.1 L1210.6 730.1 L1211.1 730.1 L1211.6 730.1
L1211.9 730.1 L1212.1 730.4 L1212.6 733.6 L1213.1 740.1 L1213.6 749.4 L1214.1 760.9 L1214.6 774.1 L1215.1 788.4 L1215.6 803.3 L1216.1 818.2 L1216.6 832.6 L1217.1 845.9
L1217.6 857.6 L1218.1 867.2 L1218.6 874.1 L1219.1 877.7 L1219.3 878.2 L1219.6 878.2 L1220.1 878.2 L1220.6 878.2 L1220.9 878.2 L1221.1 878.1 L1221.6 877.5 L1222.1 876.2
L1222.6 874.3 L1223.1 871.9 L1223.6 869.0 L1224.1 865.8 L1224.6 862.3 L1225.1 858.6 L1225.6 854.9 L1226.1 851.1 L1226.6 847.4 L1227.1 843.8 L1227.6 840.4 L1228.1 837.4
L1228.2 837.1 L1228.6 834.4 L1229.1 831.0 L1229.6 827.4 L1230.1 823.7 L1230.6 820.0 L1231.1 816.3 L1231.6 812.8 L1232.1 809.7 L1232.6 806.9 L1233.1 804.7 L1233.6 803.1
L1234.1 802.3 L1234.4 802.2 L1234.6 802.2 L1235.1 802.2 L1235.6 802.2 L1236.0 802.2 L1236.1 802.3 L1236.6 803.5 L1237.1 806.1 L1237.6 809.9 L1238.1 814.6 L1238.6 820.0
L1239.1 825.9 L1239.6 832.0 L1240.1 838.1 L1240.6 844.1 L1241.1 849.6 L1241.6 854.5 L1242.1 858.5 L1242.6 861.4 L1243.1 862.9 L1243.4 863.1 L1243.6 863.1 L1244.1 863.1
L1244.6 863.1 L1245.0 863.1 L1245.1 863.1 L1245.6 862.7 L1246.1 861.9 L1246.6 860.8 L1247.1 859.4 L1247.6 857.9 L1248.1 856.3 L1248.6 854.8 L1249.1 853.3 L1249.6 852.1
L1250.1 851.2 L1250.2 851.1 L1250.6 850.6 L1251.1 849.9 L1251.6 849.2 L1252.1 848.6 L1252.6 848.0 L1253.1 847.5 L1253.6 847.0 L1254.1 846.7 L1254.6 846.4 L1255.1 846.3
L1255.4 846.2 L1255.6 846.2 L1256.1 846.2 L1256.6 846.2 L1257.0 846.2 L1257.1 846.3 L1257.6 846.9 L1258.1 848.2 L1258.6 850.0 L1259.1 852.2 L1259.6 854.5 L1260.1 856.9
L1260.6 859.1 L1261.1 861.0 L1261.6 862.4 L1262.1 863.1 L1262.2 863.2 L1262.6 863.3 L1263.1 863.5 L1263.6 863.6 L1264.1 863.7 L1264.6 863.8 L1265.1 863.9 L1265.6 863.9
L1266.1 864.0 L1266.6 864.1 L1267.1 864.1 L1267.6 864.2 L1268.1 864.4 L1268.6 864.5 L1269.1 864.7 L1269.2 864.8 L1269.6 865.4 L1270.1 867.1 L1270.6 869.7 L1271.1 872.9
L1271.6 876.4 L1272.1 880.0 L1272.6 883.4 L1273.1 886.4 L1273.6 888.6 L1274.1 890.0 L1274.4 890.2 L1274.6 890.2 L1275.1 890.2 L1275.6 890.2 L1276.0 890.2 L1276.1 890.1
L1276.6 889.0 L1277.1 886.5 L1277.6 883.2 L1278.1 879.4 L1278.6 875.5 L1279.1 871.9 L1279.6 869.1 L1280.1 867.4 L1280.4 867.1 L1280.6 867.1 L1281.1 867.1 L1281.6 867.1
L1282.0 867.1 L1282.1 867.1 L1282.6 869.1 L1283.1 873.4 L1283.6 879.3 L1284.1 886.3 L1284.6 893.7 L1285.1 900.9 L1285.6 907.1 L1286.1 911.8 L1286.6 914.3 L1286.8 914.6
L1287.1 914.6 L1287.6 914.6 L1288.1 914.6 L1288.4 914.6 L1288.6 914.3 L1289.1 910.9 L1289.6 904.3 L1290.1 895.1 L1290.6 884.1 L1291.1 871.9 L1291.6 859.4 L1292.1 847.1
L1292.6 835.7 L1293.1 826.0 L1293.6 818.7 L1294.1 814.4 L1294.4 813.6 L1294.6 813.6 L1295.1 813.6 L1295.6 813.6 L1296.0 813.6 L1296.1 813.7 L1296.6 816.1 L1297.1 821.9
L1297.6 830.2 L1298.1 840.6 L1298.6 852.3 L1299.1 864.8 L1299.6 877.5 L1300.1 889.7 L1300.6 900.8 L1301.1 910.2 L1301.6 917.3 L1302.1 921.4 L1302.4 922.2 L1302.6 922.2
L1303.1 922.2 L1303.6 922.2 L1304.0 922.2 L1304.1 922.2 L1304.6 920.5 L1305.1 917.2 L1305.6 913.9 L1306.1 911.9 L1306.2 911.8 L1306.6 911.8 L1307.1 911.7 L1307.6 911.7
L1308.1 911.7 L1308.6 911.7 L1309.1 911.7 L1309.6 911.6 L1310.1 911.6 L1310.2 911.6 L1310.6 911.1 L1311.1 909.0 L1311.6 905.4 L1312.1 900.7 L1312.6 895.1 L1313.1 888.7
L1313.6 881.9 L1314.1 874.9 L1314.6 868.0 L1315.1 861.3 L1315.6 855.1 L1316.1 849.7 L1316.6 845.3 L1317.1 842.1 L1317.6 840.4 L1317.8 840.2 L1318.1 840.2 L1318.6 840.2
L1319.1 840.2 L1319.4 840.2 L1319.6 840.5 L1320.1 844.9 L1320.6 853.1 L1321.1 863.5 L1321.6 874.4 L1322.1 884.1 L1322.6 890.9 L1323.1 893.2 L1323.1 893.2 L1323.6 893.2
L1324.1 893.2 L1324.6 893.2 L1324.7 893.2 L1325.1 891.4 L1325.6 885.9 L1326.1 877.4 L1326.6 866.7 L1327.1 854.9 L1327.6 842.6 L1328.1 830.7 L1328.6 820.0 L1329.1 811.5
L1329.6 806.0 L1330.1 804.2 L1330.1 804.2 L1330.6 804.2 L1331.1 804.2 L1331.6 804.2 L1331.7 804.2 L1332.1 806.4 L1332.6 813.4 L1333.1 824.2 L1333.6 837.7 L1334.1 852.9
L1334.6 868.6 L1335.1 883.8 L1335.6 897.4 L1336.1 908.3 L1336.6 915.5 L1337.1 917.8 L1337.1 917.8 L1337.6 917.8 L1338.1 917.8 L1338.6 917.8 L1338.7 917.8 L1339.1 916.3
L1339.6 911.4 L1340.1 903.9 L1340.6 894.5 L1341.1 884.0 L1341.6 873.3 L1342.1 863.1 L1342.6 854.2 L1343.1 847.5 L1343.6 843.6 L1343.9 843.0 L1344.1 843.0 L1344.6 843.0
L1345.1 843.0 L1345.5 843.0 L1345.6 843.1 L1346.1 845.4 L1346.6 850.0 L1347.1 856.1 L1347.6 862.8 L1348.1 869.3 L1348.6 874.7 L1349.1 878.3 L1349.5 879.2 L1349.6 879.2
L1350.1 879.2 L1350.6 879.2 L1351.1 879.2 L1351.1 879.2 L1351.6 877.5 L1352.1 873.4 L1352.6 868.0 L1353.1 862.2 L1353.6 857.1 L1354.1 853.6 L1354.5 852.6 L1354.6 852.6
L1355.1 852.6 L1355.6 852.6 L1356.1 852.6 L1356.1 852.6 L1356.6 855.1 L1357.1 861.5 L1357.6 870.5 L1358.1 881.1 L1358.6 892.2 L1359.1 902.5 L1359.6 910.9 L1360.1 916.4
L1360.5 917.8 L1360.6 917.8 L1361.1 917.8 L1361.6 917.8 L1362.1 917.8 L1362.1 917.8 L1362.6 916.3 L1363.1 912.5 L1363.6 906.7 L1364.1 899.6 L1364.6 891.8 L1365.1 883.8
L1365.6 876.1 L1366.1 869.3 L1366.6 863.9 L1367.1 860.5 L1367.5 859.6 L1367.6 859.6 L1368.1 859.6 L1368.6 859.6 L1369.1 859.6 L1369.1 859.6 L1369.6 860.7 L1370.1 863.2
L1370.6 866.2 L1371.1 868.5 L1371.5 869.2 L1371.6 869.2 L1372.1 869.2 L1372.6 869.2 L1373.1 869.2 L1373.1 869.2 L1373.6 867.9 L1374.1 864.5 L1374.6 859.6 L1375.1 853.5
L1375.6 846.9 L1376.1 840.3 L1376.6 834.3 L1377.1 829.3 L1377.6 825.9 L1378.1 824.6 L1378.1 824.6 L1378.6 824.6 L1379.1 824.6 L1379.6 824.6 L1379.7 824.6 L1380.1 825.4
L1380.6 828.4 L1381.1 833.0 L1381.6 838.3 L1382.1 843.6 L1382.6 848.1 L1383.1 851.2 L1383.5 852.1 L1383.6 852.1 L1384.1 852.1 L1384.6 852.1 L1385.1 852.1 L1385.1 852.1
L1385.6 852.1 L1386.1 851.9 L1386.6 851.6 L1387.1 851.3 L1387.6 851.0 L1388.1 850.7 L1388.6 850.5 L1389.1 850.3 L1389.5 850.2 L1389.6 850.2 L1390.1 850.2 L1390.6 850.2
L1391.1 850.2 L1391.1 850.2 L1391.6 851.2 L1392.1 853.6 L1392.6 856.0 L1393.1 857.1 L1393.1 857.1 L1393.6 857.1 L1394.1 857.1 L1394.6 857.1 L1394.7 857.1 L1395.1 856.4
L1395.6 853.4 L1396.1 848.7 L1396.6 842.9 L1397.1 836.7 L1397.6 830.8 L1398.1 825.7 L1398.6 822.1 L1399.1 820.6 L1399.1 820.6 L1399.6 820.6 L1400.1 820.6 L1400.6 820.6
L1400.7 820.6 L1401.1 821.4 L1401.6 824.9 L1402.1 830.2 L1402.6 836.8 L1403.1 843.9 L1403.6 850.8 L1404.1 856.7 L1404.6 860.8 L1405.1 862.5 L1405.1 862.5 L1405.6 862.5
L1406.1 862.5 L1406.6 862.5 L1406.7 862.5 L1407.1 861.3 L1407.6 855.9 L1408.1 847.5 L1408.6 837.3 L1409.1 826.4 L1409.6 816.3 L1410.1 808.0 L1410.6 802.7 L1411.0 801.6
L1411.1 801.6 L1411.6 801.6 L1412.1 801.6 L1412.6 801.6 L1412.6 801.6 L1413.1 805.9 L1413.6 815.9 L1414.1 830.2 L1414.6 847.4 L1415.1 865.9 L1415.6 884.2 L1416.1 900.9
L1416.6 914.4 L1417.1 923.4 L1417.6 926.2 L1417.6 926.2 L1418.1 926.2 L1418.6 926.2 L1419.1 926.2 L1419.2 926.2 L1419.6 924.2 L1420.1 917.6 L1420.6 907.2 L1421.1 893.9
L1421.6 878.5 L1422.1 861.9 L1422.6 844.8 L1423.1 828.2 L1423.6 812.8 L1424.1 799.4 L1424.6 789.0 L1425.1 782.3 L1425.6 780.2 L1425.6 780.2 L1426.1 780.2 L1426.6 780.2
L1427.1 780.2 L1427.2 780.2 L1427.6 783.0 L1428.1 792.0 L1428.6 805.5 L1429.1 821.7 L1429.6 838.8 L1430.1 855.1 L1430.6 868.7 L1431.1 878.0 L1431.6 881.2 L1431.6 881.2
L1432.1 881.2 L1432.6 881.2 L1433.1 881.2 L1433.2 881.2 L1433.6 879.4 L1434.1 873.8 L1434.6 865.8 L1435.1 857.0 L1435.6 848.9 L1436.1 842.9 L1436.6 840.6 L1436.6 840.6
L1437.1 840.6 L1437.6 840.6 L1438.1 840.6 L1438.2 840.6 L1438.6 841.7 L1439.1 845.6 L1439.6 851.9 L1440.1 859.8 L1440.6 868.8 L1441.1 878.4 L1441.6 887.8 L1442.1 896.4
L1442.6 903.7 L1443.1 909.1 L1443.6 911.9 L1443.8 912.2 L1444.1 912.2 L1444.6 912.2 L1445.1 912.2 L1445.4 912.2 L1445.6 912.0 L1446.1 910.1 L1446.6 906.3 L1447.1 901.0
L1447.6 894.5 L1448.1 887.3 L1448.6 879.5 L1449.1 871.6 L1449.6 863.9 L1450.1 856.7 L1450.6 850.4 L1451.1 845.4 L1451.6 841.9 L1452.1 840.3 L1452.2 840.2 L1452.6 840.2
L1453.1 840.2 L1453.6 840.2 L1453.8 840.2 L1454.1 840.5 L1454.6 841.9 L1455.1 844.6 L1455.6 848.3 L1456.1 852.9 L1456.6 858.1 L1457.1 863.8 L1457.6 869.9 L1458.1 876.0
L1458.6 882.2 L1459.1 888.2 L1459.6 893.7 L1460.1 898.7 L1460.6 903.0 L1461.1 906.4 L1461.6 908.7 L1462.1 909.8 L1462.2 909.8 L1462.6 909.8 L1463.1 909.8 L1463.6 909.8
L1463.8 909.8 L1464.1 909.2 L1464.6 905.1 L1465.1 897.8 L1465.6 887.9 L1466.1 876.2 L1466.6 863.2 L1467.1 849.7 L1467.6 836.3 L1468.1 823.6 L1468.6 812.3 L1469.1 803.2
L1469.6 796.7 L1470.1 793.7 L1470.2 793.6 L1470.6 793.6 L1471.1 793.6 L1471.6 793.6 L1471.8 793.6 L1472.1 794.2 L1472.6 798.4 L1473.1 805.9 L1473.6 815.8 L1474.1 827.3
L1474.6 839.5 L1475.1 851.6 L1475.6 862.7 L1476.1 872.0 L1476.6 878.8 L1477.1 882.0 L1477.2 882.2 L1477.6 882.2 L1478.1 882.2 L1478.6 882.2 L1478.8 882.2 L1479.1 881.7
L1479.6 878.5 L1480.1 873.0 L1480.6 866.1 L1481.1 858.8 L1481.6 852.0 L1482.1 846.6 L1482.6 843.5 L1482.9 843.0 L1483.1 843.0 L1483.6 843.0 L1484.1 843.0 L1484.5 843.0
L1484.6 843.3 L1485.1 847.4 L1485.6 855.4 L1486.1 865.7 L1486.6 876.7 L1487.1 886.9 L1487.6 894.8 L1488.1 898.9 L1488.3 899.2 L1488.6 899.2 L1489.1 899.2 L1489.6 899.2
L1489.9 899.2 L1490.1 898.9 L1490.6 896.5 L1491.1 892.5 L1491.6 887.5 L1492.1 882.1 L1492.6 877.0 L1493.1 873.0 L1493.6 870.6 L1493.9 870.3 L1494.1 870.3 L1494.6 870.3
L1495.1 870.3 L1495.5 870.3 L1495.6 870.4 L1496.1 873.4 L1496.6 879.1 L1497.1 886.6 L1497.6 894.6 L1498.1 902.1 L1498.6 907.9 L1499.1 911.0 L1499.3 911.2 L1499.6 911.2
L1500.1 911.2 L1500.6 911.2 L1500.9 911.2 L1501.1 910.8 L1501.6 907.8 L1502.1 902.4 L1502.6 895.2 L1503.1 887.0 L1503.6 878.4 L1504.1 870.1 L1504.6 862.9 L1505.1 857.3
L1505.6 854.1 L1505.9 853.6 L1506.1 853.6 L1506.6 853.6 L1507.1 853.6 L1507.5 853.6 L1507.6 853.7 L1508.1 854.1 L1508.6 854.9 L1509.1 855.8 L1509.6 856.6 L1510.1 857.1
L1510.3 857.1 L1510.6 857.1 L1511.1 857.1 L1511.6 857.1 L1511.9 857.1 L1512.1 856.4 L1512.6 850.4 L1513.1 839.4 L1513.6 824.7 L1514.1 807.9 L1514.6 790.2 L1515.1 773.2
L1515.6 758.2 L1516.1 746.7 L1516.6 740.0 L1516.9 738.9 L1517.1 738.9 L1517.6 738.9 L1518.1 738.9 L1518.5 738.9 L1518.6 739.2 L1519.1 745.3 L1519.6 758.6 L1520.1 777.5
L1520.6 800.3 L1521.1 825.6 L1521.6 851.8 L1522.1 877.3 L1522.6 900.6 L1523.1 920.1 L1523.6 934.3 L1524.1 941.6 L1524.3 942.2 L1524.6 942.2 L1525.1 942.2 L1525.6 942.2
L1525.9 942.2 L1526.1 941.5 L1526.6 933.9 L1527.1 919.7 L1527.6 900.4 L1528.1 877.8 L1528.6 853.6 L1529.1 829.4 L1529.6 806.9 L1530.1 787.7 L1530.6 773.6 L1531.1 766.2
L1531.3 765.5 L1531.6 765.5 L1532.1 765.5 L1532.6 765.5 L1532.9 765.5 L1533.1 766.1 L1533.6 772.1 L1534.1 783.3 L1534.6 798.3 L1535.1 815.7 L1535.6 833.9 L1536.1 851.6
L1536.6 867.2 L1537.1 879.3 L1537.6 886.5 L1537.9 887.8 L1538.1 887.8 L1538.6 887.8 L1539.1 887.8 L1539.5 887.8 L1539.6 887.7 L1540.1 884.9 L1540.6 878.7 L1541.1 870.3
L1541.6 860.6 L1542.1 850.6 L1542.6 841.5 L1543.1 834.3 L1543.6 829.9 L1543.9 829.0 L1544.1 829.0 L1544.6 829.0 L1545.1 829.0 L1545.5 829.0 L1545.6 829.1 L1546.1 832.1
L1546.6 838.5 L1547.1 846.9 L1547.6 856.3 L1548.1 865.1 L1548.6 872.1 L1549.1 876.1 L1549.3 876.6 L1549.6 876.6 L1550.1 876.6 L1550.6 876.6 L1550.9 876.6 L1551.1 876.4
L1551.6 874.2 L1552.1 870.1 L1552.6 864.9 L1553.1 859.3 L1553.6 854.2 L1554.1 850.3 L1554.6 848.3 L1554.7 848.2 L1555.1 848.2 L1555.6 848.2 L1556.1 848.2 L1556.3 848.2
L1556.6 848.7 L1557.1 851.9 L1557.6 857.3 L1558.1 864.4 L1558.6 872.4 L1559.1 880.8 L1559.6 888.8 L1560.1 895.7 L1560.6 901.0 L1561.1 903.8 L1561.3 904.2 L1561.6 904.2
L1562.1 904.2 L1562.6 904.2 L1562.9 904.2 L1563.1 904.0 L1563.6 902.0 L1564.1 897.9 L1564.6 892.4 L1565.1 885.8 L1565.6 878.8 L1566.1 871.7 L1566.6 865.3 L1567.1 859.9
L1567.6 856.0 L1568.1 854.2 L1568.1 854.1 L1568.6 853.8 L1569.1 853.6 L1569.6 853.4 L1570.1 853.2 L1570.6 853.1 L1571.1 853.0 L1571.6 852.8 L1572.1 852.6 L1572.6 852.3
L1572.8 852.1 L1573.1 851.0 L1573.6 847.1 L1574.1 840.9 L1574.6 833.0 L1575.1 824.0 L1575.6 814.5 L1576.1 805.2 L1576.6 796.5 L1577.1 789.1 L1577.6 783.6 L1578.1 780.6
L1578.4 780.2 L1578.6 780.2 L1579.1 780.2 L1579.6 780.2 L1580.0 780.2 L1580.1 780.4 L1580.6 784.4 L1581.1 792.8 L1581.6 804.6 L1582.1 819.1 L1582.6 835.3 L1583.1 852.5
L1583.6 869.8 L1584.1 886.3 L1584.6 901.2 L1585.1 913.7 L1585.6 922.9 L1586.1 927.9 L1586.4 928.6 L1586.6 928.6 L1587.1 928.6 L1587.6 928.6 L1588.0 928.6 L1588.1 928.4
L1588.6 924.8 L1589.1 917.5 L1589.6 907.4 L1590.1 895.7 L1590.6 883.1 L1591.1 870.9 L1591.6 860.0 L1592.1 851.3 L1592.6 845.9 L1593.0 844.6 L1593.1 844.6 L1593.6 844.6
L1594.1 844.6 L1594.6 844.6 L1594.6 844.6 L1595.1 846.2 L1595.6 849.9 L1596.1 854.8 L1596.6 860.0 L1597.1 864.7 L1597.6 867.8 L1598.0 868.6 L1598.1 868.6 L1598.6 868.6
L1599.1 868.6 L1599.6 868.6 L1599.6 868.6 L1600.1 867.3 L1600.6 864.2 L1601.1 859.6 L1601.6 853.8 L1602.1 847.4 L1602.6 840.7 L1603.1 834.1 L1603.6 827.9 L1604.1 822.7
L1604.6 818.8 L1605.1 816.6 L1605.4 816.2 L1605.6 816.2 L1606.1 816.2 L1606.6 816.2 L1607.0 816.2 L1607.1 816.3 L1607.6 818.0 L1608.1 821.6 L1608.6 826.4 L1609.1 832.0
L1609.6 837.9 L1610.1 843.3 L1610.6 847.9 L1611.1 851.0 L1611.6 852.1 L1611.6 852.1 L1612.1 852.1 L1612.6 852.1 L1613.1 852.1 L1613.6 852.1 L1614.1 852.1 L1614.6 852.1
L1615.1 852.1 L1615.6 852.1 L1616.1 852.1 L1616.6 852.1 L1617.1 852.1 L1617.6 852.1 L1617.6 852.1 L1618.1 853.4 L1618.6 856.7 L1619.1 861.4 L1619.6 866.9 L1620.1 872.7
L1620.6 878.1 L1621.1 882.5 L1621.6 885.4 L1622.0 886.2 L1622.1 886.2 L1622.6 886.2 L1623.1 886.2 L1623.6 886.2 L1623.6 886.2 L1624.1 886.0 L1624.6 885.7 L1625.1 885.1
L1625.6 884.5 L1626.1 883.8 L1626.6 883.1 L1627.1 882.5 L1627.6 882.0 L1628.1 881.7 L1628.4 881.7 L1628.6 881.7 L1629.1 881.7 L1629.6 881.7 L1630.0 881.7 L1630.1 881.7
L1630.6 882.7 L1631.1 884.9 L1631.6 888.0 L1632.1 891.7 L1632.6 895.8 L1633.1 900.0 L1633.6 903.9 L1634.1 907.3 L1634.6 910.0 L1635.1 911.5 L1635.4 911.8 L1635.6 911.8
L1636.1 911.8 L1636.6 911.8 L1637.0 911.8 L1637.1 911.8 L1637.6 910.7 L1638.1 908.1 L1638.6 904.3 L1639.1 899.5 L1639.6 894.0 L1640.1 887.9 L1640.6 881.5 L1641.1 875.1
L1641.6 868.9 L1642.1 863.0 L1642.6 857.9 L1643.1 853.6 L1643.6 850.4 L1644.1 848.6 L1644.4 848.2 L1644.6 848.2 L1645.1 848.2 L1645.6 848.2 L1646.0 848.2 L1646.1 848.3
L1646.6 849.2 L1647.1 851.4 L1647.6 854.6 L1648.1 858.5 L1648.6 862.8 L1649.1 867.3 L1649.6 871.7 L1650.1 875.7 L1650.6 879.1 L1651.1 881.7 L1651.6 883.0 L1651.8 883.2
L1652.1 883.2 L1652.6 883.2 L1653.1 883.2 L1653.4 883.2 L1653.6 883.0 L1654.1 881.2 L1654.6 877.3 L1655.1 872.0 L1655.6 865.4 L1656.1 858.1 L1656.6 850.2 L1657.1 842.3
L1657.6 834.6 L1658.1 827.6 L1658.6 821.5 L1659.1 816.8 L1659.6 813.9 L1660.0 813.0 L1660.1 813.0 L1660.6 813.0 L1661.1 813.0 L1661.6 813.0 L1661.6 813.0 L1662.1 814.1
L1662.6 817.5 L1663.1 822.4 L1663.6 828.4 L1664.1 834.6 L1664.6 840.5 L1665.1 845.4 L1665.6 848.7 L1666.1 849.7 L1666.1 849.7 L1666.6 849.7 L1667.1 849.7 L1667.6 849.7
L1667.7 849.7 L1668.1 848.7 L1668.6 845.3 L1669.1 840.1 L1669.6 833.5 L1670.1 826.0 L1670.6 818.1 L1671.1 810.3 L1671.6 803.0 L1672.1 796.6 L1672.6 791.8 L1673.1 788.8
L1673.5 788.2 L1673.6 788.2 L1674.1 788.2 L1674.6 788.2 L1675.1 788.2 L1675.1 788.2 L1675.6 789.8 L1676.1 793.8 L1676.6 799.9 L1677.1 807.5 L1677.6 816.4 L1678.1 826.0
L1678.6 836.0 L1679.1 846.0 L1679.6 855.5 L1680.1 864.2 L1680.6 871.6 L1681.1 877.3 L1681.6 881.0 L1682.1 882.2 L1682.1 882.2 L1682.6 882.2 L1683.1 882.2 L1683.6 882.2
L1683.7 882.2 L1684.1 881.8 L1684.6 880.5 L1685.1 878.3 L1685.6 875.5 L1686.1 872.0 L1686.6 868.1 L1687.1 863.8 L1687.6 859.2 L1688.1 854.5 L1688.6 849.7 L1689.1 845.0
L1689.6 840.5 L1690.1 836.3 L1690.6 832.6 L1691.1 829.3 L1691.6 826.7 L1692.1 824.8 L1692.6 823.8 L1692.9 823.6 L1693.1 823.6 L1693.6 823.6 L1694.1 823.6 L1694.5 823.6
L1694.6 823.7 L1695.1 825.5 L1695.6 829.5 L1696.1 835.4 L1696.6 842.8 L1697.1 851.5 L1697.6 861.0 L1698.1 871.1 L1698.6 881.4 L1699.1 891.7 L1699.6 901.5 L1700.1 910.7
L1700.6 918.7 L1701.1 925.5 L1701.6 930.5 L1702.1 933.5 L1702.5 934.2 L1702.6 934.2 L1703.1 934.2 L1703.6 934.2 L1704.1 934.2 L1704.1 934.2 L1704.6 932.6 L1705.1 928.5
L1705.6 922.2 L1706.1 914.5 L1706.6 905.7 L1707.1 896.6 L1707.6 887.6 L1708.1 879.2 L1708.6 872.1 L1709.1 866.7 L1709.6 863.6 L1709.9 863.1 L1710.1 863.1 L1710.6 863.1
L1711.1 863.1 L1711.5 863.1 L1711.6 863.1 L1712.1 865.6 L1712.6 870.5 L1713.1 876.9 L1713.6 883.8 L1714.1 890.0 L1714.6 894.5 L1715.1 896.2 L1715.1 896.2 L1715.6 896.2
L1716.1 896.2 L1716.6 896.2 L1716.7 896.2 L1717.1 895.2 L1717.6 891.5 L1718.1 885.8 L1718.6 878.7 L1719.1 870.9 L1719.6 863.2 L1720.1 856.1 L1720.6 850.3 L1721.1 846.7
L1721.5 845.6 L1721.6 845.6 L1722.1 845.6 L1722.6 845.6 L1723.1 845.6 L1723.1 845.6 L1723.6 848.0 L1724.1 854.5 L1724.6 864.1 L1725.1 875.6 L1725.6 888.0 L1726.1 900.2
L1726.6 911.1 L1727.1 919.7 L1727.6 924.8 L1727.9 925.8 L1728.1 925.8 L1728.6 925.8 L1729.1 925.8 L1729.5 925.8 L1729.6 925.7 L1730.1 922.8 L1730.6 916.2 L1731.1 906.9
L1731.6 895.9 L1732.1 884.0 L1732.6 872.4 L1733.1 861.8 L1733.6 853.3 L1734.1 847.8 L1734.5 846.2 L1734.6 846.2 L1735.1 846.2 L1735.6 846.2 L1736.1 846.2 L1736.1 846.2
L1736.6 847.8 L1737.1 852.2 L1737.6 858.6 L1738.1 866.2 L1738.6 874.1 L1739.1 881.6 L1739.6 887.8 L1740.1 891.9 L1740.5 893.2 L1740.6 893.2 L1741.1 893.2 L1741.6 893.2
L1742.1 893.2 L1742.1 893.2 L1742.6 891.8 L1743.1 887.9 L1743.6 882.0 L1744.1 874.6 L1744.6 866.3 L1745.1 857.8 L1745.6 849.6 L1746.1 842.3 L1746.6 836.5 L1747.1 832.7
L1747.5 831.6 L1747.6 831.6 L1748.1 831.6 L1748.6 831.6 L1749.1 831.6 L1749.1 831.6 L1749.6 833.1 L1750.1 837.3 L1750.6 843.4 L1751.1 850.5 L1751.6 857.7 L1752.1 864.0
L1752.6 868.6 L1753.1 870.5 L1753.1 870.6 L1753.6 870.6 L1754.1 870.6 L1754.6 870.6 L1754.7 870.6 L1755.1 870.3 L1755.6 869.3 L1756.1 867.5 L1756.6 864.8 L1757.1 861.5
L1757.6 857.4 L1758.1 852.6 L1758.6 847.1 L1759.1 841.1 L1759.6 834.5 L1760.1 827.3 L1760.6 819.5 L1761.1 811.3 L1761.4 807.1"/>
<g class="axis">
<rect x="60" y="1092" width="1705" height="1.8" fill="#7d7d7d"/>
<rect x="63.00" y="1092" width="2.2" height="18.50" fill="#a6a6a6"/>
<rect x="60.00" y="1110.5" width="3" height="2.2" fill="#8a8a8a"/>
<rect x="60.00" y="1089" width="3" height="21.50" fill="#000"/>
<rect x="275.73" y="1092" width="2.2" height="10.00" fill="#a6a6a6"/>
<rect x="272.73" y="1102" width="3" height="2.2" fill="#8a8a8a"/>
<rect x="272.73" y="1089" width="3" height="13.00" fill="#000"/>
<rect x="488.45" y="1092" width="2.2" height="18.50" fill="#a6a6a6"/>
<rect x="485.45" y="1110.5" width="3" height="2.2" fill="#8a8a8a"/>
<rect x="485.45" y="1089" width="3" height="21.50" fill="#000"/>
<rect x="701.17" y="1092" width="2.2" height="10.00" fill="#a6a6a6"/>
<rect x="698.17" y="1102" width="3" height="2.2" fill="#8a8a8a"/>
<rect x="698.17" y="1089" width="3" height="13.00" fill="#000"/>
<rect x="913.90" y="1092" width="2.2" height="18.50" fill="#a6a6a6"/>
<rect x="910.90" y="1110.5" width="3" height="2.2" fill="#8a8a8a"/>
<rect x="910.90" y="1089" width="3" height="21.50" fill="#000"/>
<rect x="1126.62" y="1092" width="2.2" height="10.00" fill="#a6a6a6"/>
<rect x="1123.62" y="1102" width="3" height="2.2" fill="#8a8a8a"/>
<rect x="1123.62" y="1089" width="3" height="13.00" fill="#000"/>
<rect x="1339.35" y="1092" width="2.2" height="18.50" fill="#a6a6a6"/>
<rect x="1336.35" y="1110.5" width="3" height="2.2" fill="#8a8a8a"/>
<rect x="1336.35" y="1089" width="3" height="21.50" fill="#000"/>
<rect x="1552.08" y="1092" width="2.2" height="10.00" fill="#a6a6a6"/>
<rect x="1549.08" y="1102" width="3" height="2.2" fill="#8a8a8a"/>
<rect x="1549.08" y="1089" width="3" height="13.00" fill="#000"/>
<rect x="1759.60" y="1092" width="2.2" height="18.50" fill="#a6a6a6"/>
<rect x="1761.80" y="1110.5" width="3" height="2.2" fill="#8a8a8a"/>
<rect x="1761.80" y="1089" width="3" height="21.50" fill="#000"/>
<rect x="60" y="1089" width="1705" height="3" fill="#000"/>
</g>
<g class="tick" filter="url(#softtext)">
<text x="62.3" y="1159.2" text-anchor="middle">1000</text>
<text x="486.7" y="1159.2" text-anchor="middle">0</text>
<text x="911.3" y="1159.2" text-anchor="middle">-1000</text>
<text x="1336.6" y="1159.2" text-anchor="middle">-2000</text>
<text x="1762.1" y="1159.2" text-anchor="middle">-3000</text>
</g>
<text class="title" filter="url(#softtext)"><tspan class="sup" x="756.4" y="1224">51</tspan><tspan x="787.0" y="1248.8" dx="0 0 0 0 0 0 0 0 0 0 0 2 0.4">V shift (ppm)</tspan></text>
</svg>
</body>
</html>
